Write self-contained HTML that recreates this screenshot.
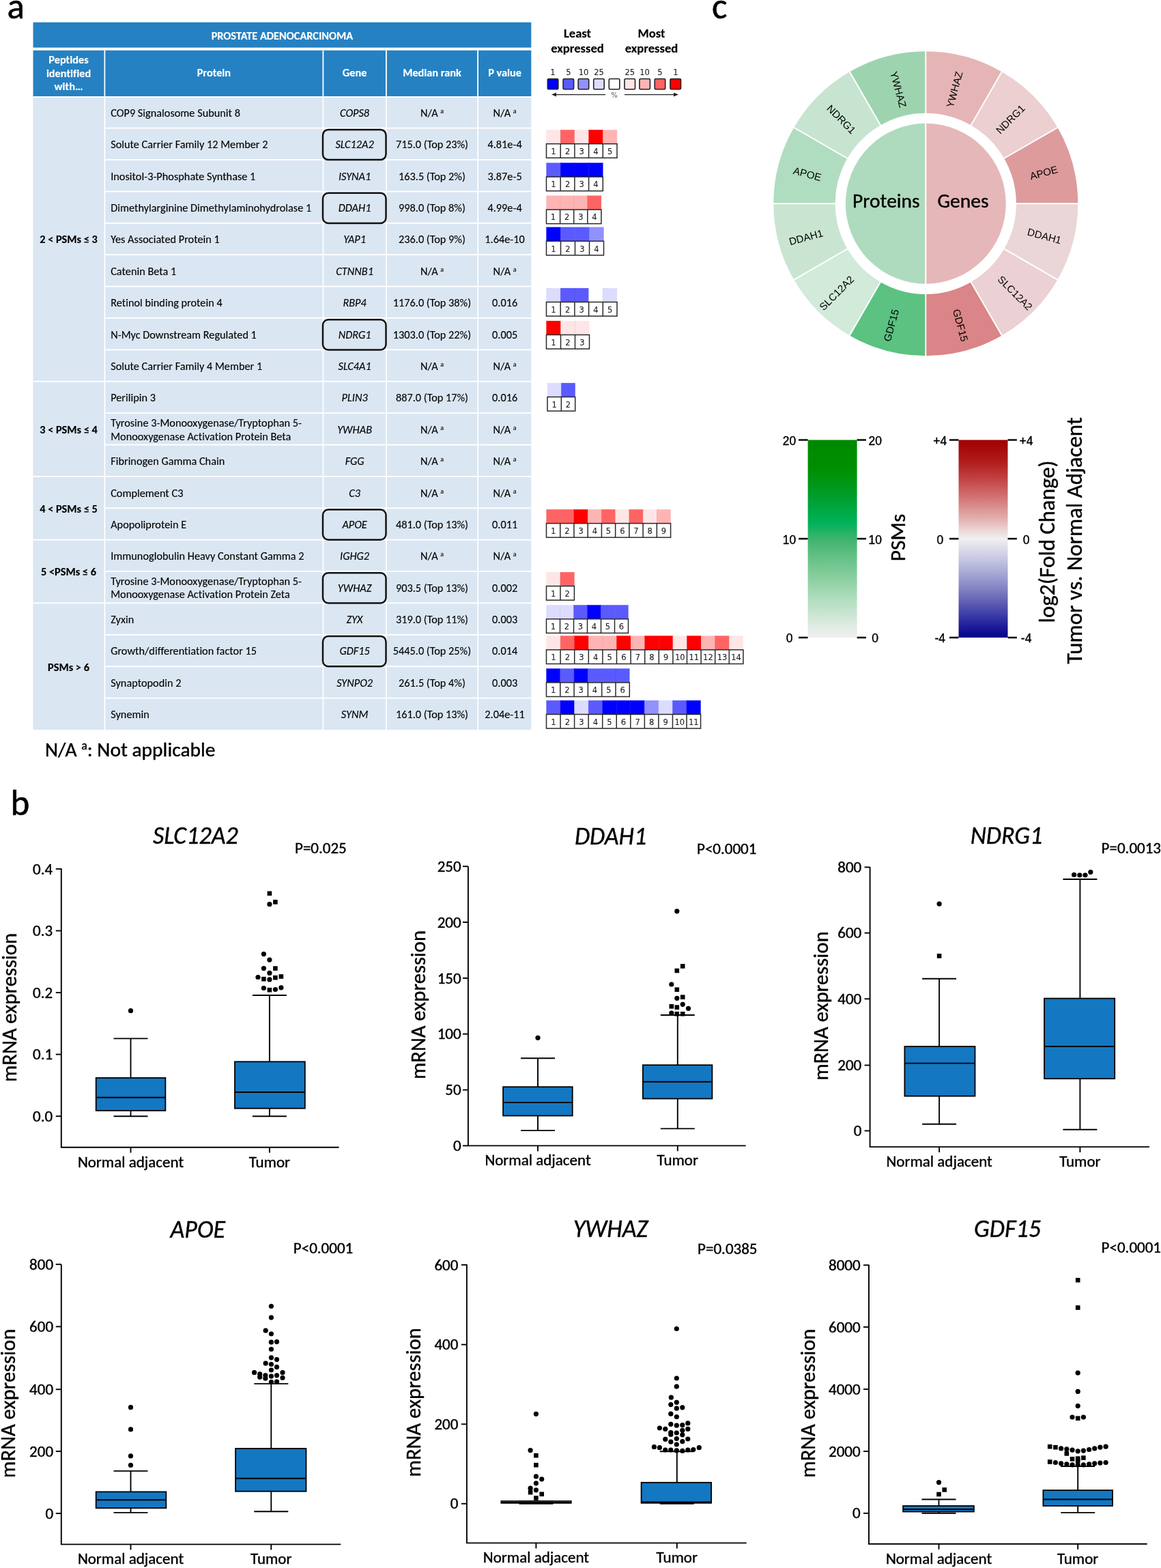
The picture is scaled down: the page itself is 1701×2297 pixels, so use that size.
<!DOCTYPE html>
<html><head><meta charset="utf-8"><title>Figure</title>
<style>html,body{margin:0;padding:0;background:#fff;} svg{display:block;} text{font-variant-ligatures:none;font-kerning:normal;}</style></head>
<body><svg width="1701" height="2297" viewBox="0 0 1701 2297">
<rect width="1701" height="2297" fill="#fff"></rect>
<rect x="48.5" y="32.7" width="729.8" height="37.0" fill="#2681C2"></rect>
<rect x="48.5" y="73.8" width="729.8" height="67.4" fill="#2681C2"></rect>
<rect x="48.5" y="141.2" width="729.8" height="927.8" fill="#DAE6F2"></rect>
<rect x="152.5" y="73.8" width="1.8" height="995.2" fill="#fff"></rect>
<rect x="472.5" y="73.8" width="1.8" height="995.2" fill="#fff"></rect>
<rect x="565.0" y="73.8" width="1.8" height="995.2" fill="#fff"></rect>
<rect x="699.2" y="73.8" width="1.8" height="995.2" fill="#fff"></rect>
<rect x="48.5" y="141.2" width="729.8" height="1.9" fill="#fff"></rect>
<rect x="152.5" y="186.7" width="625.8" height="1.9" fill="#fff"></rect>
<rect x="152.5" y="233.1" width="625.8" height="1.9" fill="#fff"></rect>
<rect x="152.5" y="279.5" width="625.8" height="1.9" fill="#fff"></rect>
<rect x="152.5" y="325.9" width="625.8" height="1.9" fill="#fff"></rect>
<rect x="152.5" y="372.2" width="625.8" height="1.9" fill="#fff"></rect>
<rect x="152.5" y="418.6" width="625.8" height="1.9" fill="#fff"></rect>
<rect x="152.5" y="465.0" width="625.8" height="1.9" fill="#fff"></rect>
<rect x="152.5" y="511.4" width="625.8" height="1.9" fill="#fff"></rect>
<rect x="48.5" y="557.8" width="729.8" height="1.9" fill="#fff"></rect>
<rect x="152.5" y="604.2" width="625.8" height="1.9" fill="#fff"></rect>
<rect x="152.5" y="650.6" width="625.8" height="1.9" fill="#fff"></rect>
<rect x="48.5" y="697.0" width="729.8" height="1.9" fill="#fff"></rect>
<rect x="152.5" y="743.4" width="625.8" height="1.9" fill="#fff"></rect>
<rect x="48.5" y="789.8" width="729.8" height="1.9" fill="#fff"></rect>
<rect x="152.5" y="836.1" width="625.8" height="1.9" fill="#fff"></rect>
<rect x="48.5" y="882.5" width="729.8" height="1.9" fill="#fff"></rect>
<rect x="152.5" y="928.9" width="625.8" height="1.9" fill="#fff"></rect>
<rect x="152.5" y="975.3" width="625.8" height="1.9" fill="#fff"></rect>
<rect x="152.5" y="1021.7" width="625.8" height="1.9" fill="#fff"></rect>
<text x="413.4" y="57.5" font-size="16.3" font-family="Carlito, 'Liberation Sans', sans-serif" font-weight="bold" text-anchor="middle" fill="#fff" stroke="#fff" stroke-width="0.15" textLength="207.41" lengthAdjust="spacingAndGlyphs">PROSTATE ADENOCARCINOMA</text>
<text x="100.5" y="93.0" font-size="16.3" font-family="Carlito, 'Liberation Sans', sans-serif" font-weight="bold" text-anchor="middle" fill="#fff" stroke="#fff" stroke-width="0.15" textLength="58.34" lengthAdjust="spacingAndGlyphs">Peptides</text>
<text x="100.5" y="112.5" font-size="16.3" font-family="Carlito, 'Liberation Sans', sans-serif" font-weight="bold" text-anchor="middle" fill="#fff" stroke="#fff" stroke-width="0.15" textLength="65.25" lengthAdjust="spacingAndGlyphs">identified</text>
<text x="100.5" y="132.0" font-size="16.3" font-family="Carlito, 'Liberation Sans', sans-serif" font-weight="bold" text-anchor="middle" fill="#fff" stroke="#fff" stroke-width="0.15" textLength="42.11" lengthAdjust="spacingAndGlyphs">with…</text>
<text x="313.4" y="112.3" font-size="16.3" font-family="Carlito, 'Liberation Sans', sans-serif" font-weight="bold" text-anchor="middle" fill="#fff" stroke="#fff" stroke-width="0.15" textLength="49.39" lengthAdjust="spacingAndGlyphs">Protein</text>
<text x="519.6" y="112.3" font-size="16.3" font-family="Carlito, 'Liberation Sans', sans-serif" font-weight="bold" text-anchor="middle" fill="#fff" stroke="#fff" stroke-width="0.15" textLength="35.52" lengthAdjust="spacingAndGlyphs">Gene</text>
<text x="633.0" y="112.3" font-size="16.3" font-family="Carlito, 'Liberation Sans', sans-serif" font-weight="bold" text-anchor="middle" fill="#fff" stroke="#fff" stroke-width="0.15" textLength="85.64" lengthAdjust="spacingAndGlyphs">Median rank</text>
<text x="739.6" y="112.3" font-size="16.3" font-family="Carlito, 'Liberation Sans', sans-serif" font-weight="bold" text-anchor="middle" fill="#fff" stroke="#fff" stroke-width="0.15" textLength="48.78" lengthAdjust="spacingAndGlyphs">P value</text>
<text x="162.2" y="170.8" font-size="16.3" font-family="Carlito, 'Liberation Sans', sans-serif" fill="#000" stroke="#000" stroke-width="0.12" textLength="189.78" lengthAdjust="spacingAndGlyphs">COP9 Signalosome Subunit 8</text>
<text x="519.6" y="170.8" font-size="16.3" font-family="Carlito, 'Liberation Sans', sans-serif" font-style="italic" text-anchor="middle" fill="#000" stroke="#000" stroke-width="0.12" textLength="43.03" lengthAdjust="spacingAndGlyphs">COPS8</text>
<text x="633.0" y="170.8" font-size="16.3" font-family="Carlito, 'Liberation Sans', sans-serif" text-anchor="middle" fill="#000" stroke="#000" stroke-width="0.12">N/A <tspan font-size="10" dy="-5">a</tspan></text>
<text x="739.6" y="170.8" font-size="16.3" font-family="Carlito, 'Liberation Sans', sans-serif" text-anchor="middle" fill="#000" stroke="#000" stroke-width="0.12">N/A <tspan font-size="10" dy="-5">a</tspan></text>
<text x="162.2" y="217.2" font-size="16.3" font-family="Carlito, 'Liberation Sans', sans-serif" fill="#000" stroke="#000" stroke-width="0.12" textLength="230.30" lengthAdjust="spacingAndGlyphs">Solute Carrier Family 12 Member 2</text>
<text x="519.6" y="217.2" font-size="16.3" font-family="Carlito, 'Liberation Sans', sans-serif" font-style="italic" text-anchor="middle" fill="#000" stroke="#000" stroke-width="0.12" textLength="56.38" lengthAdjust="spacingAndGlyphs">SLC12A2</text>
<text x="633.0" y="217.2" font-size="16.3" font-family="Carlito, 'Liberation Sans', sans-serif" text-anchor="middle" fill="#000" stroke="#000" stroke-width="0.12" textLength="106.13" lengthAdjust="spacingAndGlyphs">715.0 (Top 23%)</text>
<text x="739.6" y="217.2" font-size="16.3" font-family="Carlito, 'Liberation Sans', sans-serif" text-anchor="middle" fill="#000" stroke="#000" stroke-width="0.12" textLength="50.22" lengthAdjust="spacingAndGlyphs">4.81e-4</text>
<rect x="473.0" y="189.9" width="92.5" height="44.2" rx="8" ry="8" fill="none" stroke="#111" stroke-width="2.5"></rect>
<text x="162.2" y="263.6" font-size="16.3" font-family="Carlito, 'Liberation Sans', sans-serif" fill="#000" stroke="#000" stroke-width="0.12" textLength="212.19" lengthAdjust="spacingAndGlyphs">Inositol-3-Phosphate Synthase 1</text>
<text x="519.6" y="263.6" font-size="16.3" font-family="Carlito, 'Liberation Sans', sans-serif" font-style="italic" text-anchor="middle" fill="#000" stroke="#000" stroke-width="0.12" textLength="47.36" lengthAdjust="spacingAndGlyphs">ISYNA1</text>
<text x="633.0" y="263.6" font-size="16.3" font-family="Carlito, 'Liberation Sans', sans-serif" text-anchor="middle" fill="#000" stroke="#000" stroke-width="0.12" textLength="97.88" lengthAdjust="spacingAndGlyphs">163.5 (Top 2%)</text>
<text x="739.6" y="263.6" font-size="16.3" font-family="Carlito, 'Liberation Sans', sans-serif" text-anchor="middle" fill="#000" stroke="#000" stroke-width="0.12" textLength="50.22" lengthAdjust="spacingAndGlyphs">3.87e-5</text>
<text x="162.2" y="310.0" font-size="16.3" font-family="Carlito, 'Liberation Sans', sans-serif" fill="#000" stroke="#000" stroke-width="0.12" textLength="294.06" lengthAdjust="spacingAndGlyphs">Dimethylarginine Dimethylaminohydrolase 1</text>
<text x="519.6" y="310.0" font-size="16.3" font-family="Carlito, 'Liberation Sans', sans-serif" font-style="italic" text-anchor="middle" fill="#000" stroke="#000" stroke-width="0.12" textLength="47.61" lengthAdjust="spacingAndGlyphs">DDAH1</text>
<text x="633.0" y="310.0" font-size="16.3" font-family="Carlito, 'Liberation Sans', sans-serif" text-anchor="middle" fill="#000" stroke="#000" stroke-width="0.12" textLength="97.88" lengthAdjust="spacingAndGlyphs">998.0 (Top 8%)</text>
<text x="739.6" y="310.0" font-size="16.3" font-family="Carlito, 'Liberation Sans', sans-serif" text-anchor="middle" fill="#000" stroke="#000" stroke-width="0.12" textLength="50.22" lengthAdjust="spacingAndGlyphs">4.99e-4</text>
<rect x="473.0" y="282.7" width="92.5" height="44.2" rx="8" ry="8" fill="none" stroke="#111" stroke-width="2.5"></rect>
<text x="162.2" y="356.4" font-size="16.3" font-family="Carlito, 'Liberation Sans', sans-serif" fill="#000" stroke="#000" stroke-width="0.12" textLength="159.56" lengthAdjust="spacingAndGlyphs">Yes Associated Protein 1</text>
<text x="519.6" y="356.4" font-size="16.3" font-family="Carlito, 'Liberation Sans', sans-serif" font-style="italic" text-anchor="middle" fill="#000" stroke="#000" stroke-width="0.12" textLength="32.84" lengthAdjust="spacingAndGlyphs">YAP1</text>
<text x="633.0" y="356.4" font-size="16.3" font-family="Carlito, 'Liberation Sans', sans-serif" text-anchor="middle" fill="#000" stroke="#000" stroke-width="0.12" textLength="97.88" lengthAdjust="spacingAndGlyphs">236.0 (Top 9%)</text>
<text x="739.6" y="356.4" font-size="16.3" font-family="Carlito, 'Liberation Sans', sans-serif" text-anchor="middle" fill="#000" stroke="#000" stroke-width="0.12" textLength="58.47" lengthAdjust="spacingAndGlyphs">1.64e-10</text>
<text x="162.2" y="402.8" font-size="16.3" font-family="Carlito, 'Liberation Sans', sans-serif" fill="#000" stroke="#000" stroke-width="0.12" textLength="96.09" lengthAdjust="spacingAndGlyphs">Catenin Beta 1</text>
<text x="519.6" y="402.8" font-size="16.3" font-family="Carlito, 'Liberation Sans', sans-serif" font-style="italic" text-anchor="middle" fill="#000" stroke="#000" stroke-width="0.12" textLength="54.63" lengthAdjust="spacingAndGlyphs">CTNNB1</text>
<text x="633.0" y="402.8" font-size="16.3" font-family="Carlito, 'Liberation Sans', sans-serif" text-anchor="middle" fill="#000" stroke="#000" stroke-width="0.12">N/A <tspan font-size="10" dy="-5">a</tspan></text>
<text x="739.6" y="402.8" font-size="16.3" font-family="Carlito, 'Liberation Sans', sans-serif" text-anchor="middle" fill="#000" stroke="#000" stroke-width="0.12">N/A <tspan font-size="10" dy="-5">a</tspan></text>
<text x="162.2" y="449.1" font-size="16.3" font-family="Carlito, 'Liberation Sans', sans-serif" fill="#000" stroke="#000" stroke-width="0.12" textLength="163.52" lengthAdjust="spacingAndGlyphs">Retinol binding protein 4</text>
<text x="519.6" y="449.1" font-size="16.3" font-family="Carlito, 'Liberation Sans', sans-serif" font-style="italic" text-anchor="middle" fill="#000" stroke="#000" stroke-width="0.12" textLength="34.36" lengthAdjust="spacingAndGlyphs">RBP4</text>
<text x="633.0" y="449.1" font-size="16.3" font-family="Carlito, 'Liberation Sans', sans-serif" text-anchor="middle" fill="#000" stroke="#000" stroke-width="0.12" textLength="114.38" lengthAdjust="spacingAndGlyphs">1176.0 (Top 38%)</text>
<text x="739.6" y="449.1" font-size="16.3" font-family="Carlito, 'Liberation Sans', sans-serif" text-anchor="middle" fill="#000" stroke="#000" stroke-width="0.12" textLength="37.13" lengthAdjust="spacingAndGlyphs">0.016</text>
<text x="162.2" y="495.5" font-size="16.3" font-family="Carlito, 'Liberation Sans', sans-serif" fill="#000" stroke="#000" stroke-width="0.12" textLength="213.69" lengthAdjust="spacingAndGlyphs">N-Myc Downstream Regulated 1</text>
<text x="519.6" y="495.5" font-size="16.3" font-family="Carlito, 'Liberation Sans', sans-serif" font-style="italic" text-anchor="middle" fill="#000" stroke="#000" stroke-width="0.12" textLength="47.73" lengthAdjust="spacingAndGlyphs">NDRG1</text>
<text x="633.0" y="495.5" font-size="16.3" font-family="Carlito, 'Liberation Sans', sans-serif" text-anchor="middle" fill="#000" stroke="#000" stroke-width="0.12" textLength="114.38" lengthAdjust="spacingAndGlyphs">1303.0 (Top 22%)</text>
<text x="739.6" y="495.5" font-size="16.3" font-family="Carlito, 'Liberation Sans', sans-serif" text-anchor="middle" fill="#000" stroke="#000" stroke-width="0.12" textLength="37.13" lengthAdjust="spacingAndGlyphs">0.005</text>
<rect x="473.0" y="468.2" width="92.5" height="44.2" rx="8" ry="8" fill="none" stroke="#111" stroke-width="2.5"></rect>
<text x="162.2" y="541.9" font-size="16.3" font-family="Carlito, 'Liberation Sans', sans-serif" fill="#000" stroke="#000" stroke-width="0.12" textLength="222.05" lengthAdjust="spacingAndGlyphs">Solute Carrier Family 4 Member 1</text>
<text x="519.6" y="541.9" font-size="16.3" font-family="Carlito, 'Liberation Sans', sans-serif" font-style="italic" text-anchor="middle" fill="#000" stroke="#000" stroke-width="0.12" textLength="48.13" lengthAdjust="spacingAndGlyphs">SLC4A1</text>
<text x="633.0" y="541.9" font-size="16.3" font-family="Carlito, 'Liberation Sans', sans-serif" text-anchor="middle" fill="#000" stroke="#000" stroke-width="0.12">N/A <tspan font-size="10" dy="-5">a</tspan></text>
<text x="739.6" y="541.9" font-size="16.3" font-family="Carlito, 'Liberation Sans', sans-serif" text-anchor="middle" fill="#000" stroke="#000" stroke-width="0.12">N/A <tspan font-size="10" dy="-5">a</tspan></text>
<text x="162.2" y="588.3" font-size="16.3" font-family="Carlito, 'Liberation Sans', sans-serif" fill="#000" stroke="#000" stroke-width="0.12" textLength="65.86" lengthAdjust="spacingAndGlyphs">Perilipin 3</text>
<text x="519.6" y="588.3" font-size="16.3" font-family="Carlito, 'Liberation Sans', sans-serif" font-style="italic" text-anchor="middle" fill="#000" stroke="#000" stroke-width="0.12" textLength="38.11" lengthAdjust="spacingAndGlyphs">PLIN3</text>
<text x="633.0" y="588.3" font-size="16.3" font-family="Carlito, 'Liberation Sans', sans-serif" text-anchor="middle" fill="#000" stroke="#000" stroke-width="0.12" textLength="106.13" lengthAdjust="spacingAndGlyphs">887.0 (Top 17%)</text>
<text x="739.6" y="588.3" font-size="16.3" font-family="Carlito, 'Liberation Sans', sans-serif" text-anchor="middle" fill="#000" stroke="#000" stroke-width="0.12" textLength="37.13" lengthAdjust="spacingAndGlyphs">0.016</text>
<text x="162.2" y="625.2" font-size="16.3" font-family="Carlito, 'Liberation Sans', sans-serif" fill="#000" stroke="#000" stroke-width="0.12" textLength="279.91" lengthAdjust="spacingAndGlyphs">Tyrosine 3-Monooxygenase/Tryptophan 5-</text>
<text x="162.2" y="644.5" font-size="16.3" font-family="Carlito, 'Liberation Sans', sans-serif" fill="#000" stroke="#000" stroke-width="0.12" textLength="264.22" lengthAdjust="spacingAndGlyphs">Monooxygenase Activation Protein Beta</text>
<text x="519.6" y="634.7" font-size="16.3" font-family="Carlito, 'Liberation Sans', sans-serif" font-style="italic" text-anchor="middle" fill="#000" stroke="#000" stroke-width="0.12" textLength="50.86" lengthAdjust="spacingAndGlyphs">YWHAB</text>
<text x="633.0" y="634.7" font-size="16.3" font-family="Carlito, 'Liberation Sans', sans-serif" text-anchor="middle" fill="#000" stroke="#000" stroke-width="0.12">N/A <tspan font-size="10" dy="-5">a</tspan></text>
<text x="739.6" y="634.7" font-size="16.3" font-family="Carlito, 'Liberation Sans', sans-serif" text-anchor="middle" fill="#000" stroke="#000" stroke-width="0.12">N/A <tspan font-size="10" dy="-5">a</tspan></text>
<text x="162.2" y="681.1" font-size="16.3" font-family="Carlito, 'Liberation Sans', sans-serif" fill="#000" stroke="#000" stroke-width="0.12" textLength="167.08" lengthAdjust="spacingAndGlyphs">Fibrinogen Gamma Chain</text>
<text x="519.6" y="681.1" font-size="16.3" font-family="Carlito, 'Liberation Sans', sans-serif" font-style="italic" text-anchor="middle" fill="#000" stroke="#000" stroke-width="0.12" textLength="27.89" lengthAdjust="spacingAndGlyphs">FGG</text>
<text x="633.0" y="681.1" font-size="16.3" font-family="Carlito, 'Liberation Sans', sans-serif" text-anchor="middle" fill="#000" stroke="#000" stroke-width="0.12">N/A <tspan font-size="10" dy="-5">a</tspan></text>
<text x="739.6" y="681.1" font-size="16.3" font-family="Carlito, 'Liberation Sans', sans-serif" text-anchor="middle" fill="#000" stroke="#000" stroke-width="0.12">N/A <tspan font-size="10" dy="-5">a</tspan></text>
<text x="162.2" y="727.5" font-size="16.3" font-family="Carlito, 'Liberation Sans', sans-serif" fill="#000" stroke="#000" stroke-width="0.12" textLength="106.25" lengthAdjust="spacingAndGlyphs">Complement C3</text>
<text x="519.6" y="727.5" font-size="16.3" font-family="Carlito, 'Liberation Sans', sans-serif" font-style="italic" text-anchor="middle" fill="#000" stroke="#000" stroke-width="0.12" textLength="16.77" lengthAdjust="spacingAndGlyphs">C3</text>
<text x="633.0" y="727.5" font-size="16.3" font-family="Carlito, 'Liberation Sans', sans-serif" text-anchor="middle" fill="#000" stroke="#000" stroke-width="0.12">N/A <tspan font-size="10" dy="-5">a</tspan></text>
<text x="739.6" y="727.5" font-size="16.3" font-family="Carlito, 'Liberation Sans', sans-serif" text-anchor="middle" fill="#000" stroke="#000" stroke-width="0.12">N/A <tspan font-size="10" dy="-5">a</tspan></text>
<text x="162.2" y="773.9" font-size="16.3" font-family="Carlito, 'Liberation Sans', sans-serif" fill="#000" stroke="#000" stroke-width="0.12" textLength="111.03" lengthAdjust="spacingAndGlyphs">Apopoliprotein E</text>
<text x="519.6" y="773.9" font-size="16.3" font-family="Carlito, 'Liberation Sans', sans-serif" font-style="italic" text-anchor="middle" fill="#000" stroke="#000" stroke-width="0.12" textLength="36.44" lengthAdjust="spacingAndGlyphs">APOE</text>
<text x="633.0" y="773.9" font-size="16.3" font-family="Carlito, 'Liberation Sans', sans-serif" text-anchor="middle" fill="#000" stroke="#000" stroke-width="0.12" textLength="106.13" lengthAdjust="spacingAndGlyphs">481.0 (Top 13%)</text>
<text x="739.6" y="773.9" font-size="16.3" font-family="Carlito, 'Liberation Sans', sans-serif" text-anchor="middle" fill="#000" stroke="#000" stroke-width="0.12" textLength="37.13" lengthAdjust="spacingAndGlyphs">0.011</text>
<rect x="473.0" y="746.6" width="92.5" height="44.2" rx="8" ry="8" fill="none" stroke="#111" stroke-width="2.5"></rect>
<text x="162.2" y="820.3" font-size="16.3" font-family="Carlito, 'Liberation Sans', sans-serif" fill="#000" stroke="#000" stroke-width="0.12" textLength="283.30" lengthAdjust="spacingAndGlyphs">Immunoglobulin Heavy Constant Gamma 2</text>
<text x="519.6" y="820.3" font-size="16.3" font-family="Carlito, 'Liberation Sans', sans-serif" font-style="italic" text-anchor="middle" fill="#000" stroke="#000" stroke-width="0.12" textLength="43.05" lengthAdjust="spacingAndGlyphs">IGHG2</text>
<text x="633.0" y="820.3" font-size="16.3" font-family="Carlito, 'Liberation Sans', sans-serif" text-anchor="middle" fill="#000" stroke="#000" stroke-width="0.12">N/A <tspan font-size="10" dy="-5">a</tspan></text>
<text x="739.6" y="820.3" font-size="16.3" font-family="Carlito, 'Liberation Sans', sans-serif" text-anchor="middle" fill="#000" stroke="#000" stroke-width="0.12">N/A <tspan font-size="10" dy="-5">a</tspan></text>
<text x="162.2" y="857.1" font-size="16.3" font-family="Carlito, 'Liberation Sans', sans-serif" fill="#000" stroke="#000" stroke-width="0.12" textLength="279.91" lengthAdjust="spacingAndGlyphs">Tyrosine 3-Monooxygenase/Tryptophan 5-</text>
<text x="162.2" y="876.4" font-size="16.3" font-family="Carlito, 'Liberation Sans', sans-serif" fill="#000" stroke="#000" stroke-width="0.12" textLength="262.73" lengthAdjust="spacingAndGlyphs">Monooxygenase Activation Protein Zeta</text>
<text x="519.6" y="866.6" font-size="16.3" font-family="Carlito, 'Liberation Sans', sans-serif" font-style="italic" text-anchor="middle" fill="#000" stroke="#000" stroke-width="0.12" textLength="49.63" lengthAdjust="spacingAndGlyphs">YWHAZ</text>
<text x="633.0" y="866.6" font-size="16.3" font-family="Carlito, 'Liberation Sans', sans-serif" text-anchor="middle" fill="#000" stroke="#000" stroke-width="0.12" textLength="106.13" lengthAdjust="spacingAndGlyphs">903.5 (Top 13%)</text>
<text x="739.6" y="866.6" font-size="16.3" font-family="Carlito, 'Liberation Sans', sans-serif" text-anchor="middle" fill="#000" stroke="#000" stroke-width="0.12" textLength="37.13" lengthAdjust="spacingAndGlyphs">0.002</text>
<rect x="473.0" y="839.3" width="92.5" height="44.2" rx="8" ry="8" fill="none" stroke="#111" stroke-width="2.5"></rect>
<text x="162.2" y="913.0" font-size="16.3" font-family="Carlito, 'Liberation Sans', sans-serif" fill="#000" stroke="#000" stroke-width="0.12" textLength="34.05" lengthAdjust="spacingAndGlyphs">Zyxin</text>
<text x="519.6" y="913.0" font-size="16.3" font-family="Carlito, 'Liberation Sans', sans-serif" font-style="italic" text-anchor="middle" fill="#000" stroke="#000" stroke-width="0.12" textLength="23.97" lengthAdjust="spacingAndGlyphs">ZYX</text>
<text x="633.0" y="913.0" font-size="16.3" font-family="Carlito, 'Liberation Sans', sans-serif" text-anchor="middle" fill="#000" stroke="#000" stroke-width="0.12" textLength="106.13" lengthAdjust="spacingAndGlyphs">319.0 (Top 11%)</text>
<text x="739.6" y="913.0" font-size="16.3" font-family="Carlito, 'Liberation Sans', sans-serif" text-anchor="middle" fill="#000" stroke="#000" stroke-width="0.12" textLength="37.13" lengthAdjust="spacingAndGlyphs">0.003</text>
<text x="162.2" y="959.4" font-size="16.3" font-family="Carlito, 'Liberation Sans', sans-serif" fill="#000" stroke="#000" stroke-width="0.12" textLength="213.83" lengthAdjust="spacingAndGlyphs">Growth/differentiation factor 15</text>
<text x="519.6" y="959.4" font-size="16.3" font-family="Carlito, 'Liberation Sans', sans-serif" font-style="italic" text-anchor="middle" fill="#000" stroke="#000" stroke-width="0.12" textLength="44.28" lengthAdjust="spacingAndGlyphs">GDF15</text>
<text x="633.0" y="959.4" font-size="16.3" font-family="Carlito, 'Liberation Sans', sans-serif" text-anchor="middle" fill="#000" stroke="#000" stroke-width="0.12" textLength="114.38" lengthAdjust="spacingAndGlyphs">5445.0 (Top 25%)</text>
<text x="739.6" y="959.4" font-size="16.3" font-family="Carlito, 'Liberation Sans', sans-serif" text-anchor="middle" fill="#000" stroke="#000" stroke-width="0.12" textLength="37.13" lengthAdjust="spacingAndGlyphs">0.014</text>
<rect x="473.0" y="932.1" width="92.5" height="44.2" rx="8" ry="8" fill="none" stroke="#111" stroke-width="2.5"></rect>
<text x="162.2" y="1005.8" font-size="16.3" font-family="Carlito, 'Liberation Sans', sans-serif" fill="#000" stroke="#000" stroke-width="0.12" textLength="103.30" lengthAdjust="spacingAndGlyphs">Synaptopodin 2</text>
<text x="519.6" y="1005.8" font-size="16.3" font-family="Carlito, 'Liberation Sans', sans-serif" font-style="italic" text-anchor="middle" fill="#000" stroke="#000" stroke-width="0.12" textLength="52.89" lengthAdjust="spacingAndGlyphs">SYNPO2</text>
<text x="633.0" y="1005.8" font-size="16.3" font-family="Carlito, 'Liberation Sans', sans-serif" text-anchor="middle" fill="#000" stroke="#000" stroke-width="0.12" textLength="97.88" lengthAdjust="spacingAndGlyphs">261.5 (Top 4%)</text>
<text x="739.6" y="1005.8" font-size="16.3" font-family="Carlito, 'Liberation Sans', sans-serif" text-anchor="middle" fill="#000" stroke="#000" stroke-width="0.12" textLength="37.13" lengthAdjust="spacingAndGlyphs">0.003</text>
<text x="162.2" y="1052.2" font-size="16.3" font-family="Carlito, 'Liberation Sans', sans-serif" fill="#000" stroke="#000" stroke-width="0.12" textLength="56.61" lengthAdjust="spacingAndGlyphs">Synemin</text>
<text x="519.6" y="1052.2" font-size="16.3" font-family="Carlito, 'Liberation Sans', sans-serif" font-style="italic" text-anchor="middle" fill="#000" stroke="#000" stroke-width="0.12" textLength="39.50" lengthAdjust="spacingAndGlyphs">SYNM</text>
<text x="633.0" y="1052.2" font-size="16.3" font-family="Carlito, 'Liberation Sans', sans-serif" text-anchor="middle" fill="#000" stroke="#000" stroke-width="0.12" textLength="106.13" lengthAdjust="spacingAndGlyphs">161.0 (Top 13%)</text>
<text x="739.6" y="1052.2" font-size="16.3" font-family="Carlito, 'Liberation Sans', sans-serif" text-anchor="middle" fill="#000" stroke="#000" stroke-width="0.12" textLength="58.47" lengthAdjust="spacingAndGlyphs">2.04e-11</text>
<text x="100.5" y="356.3" font-size="16.3" font-family="Carlito, 'Liberation Sans', sans-serif" font-weight="bold" text-anchor="middle" fill="#000" stroke="#000" stroke-width="0.15" textLength="84.53" lengthAdjust="spacingAndGlyphs">2 &lt; PSMs ≤ 3</text>
<text x="100.5" y="634.6" font-size="16.3" font-family="Carlito, 'Liberation Sans', sans-serif" font-weight="bold" text-anchor="middle" fill="#000" stroke="#000" stroke-width="0.15" textLength="84.53" lengthAdjust="spacingAndGlyphs">3 &lt; PSMs ≤ 4</text>
<text x="100.5" y="750.6" font-size="16.3" font-family="Carlito, 'Liberation Sans', sans-serif" font-weight="bold" text-anchor="middle" fill="#000" stroke="#000" stroke-width="0.15" textLength="84.53" lengthAdjust="spacingAndGlyphs">4 &lt; PSMs ≤ 5</text>
<text x="100.5" y="843.3" font-size="16.3" font-family="Carlito, 'Liberation Sans', sans-serif" font-weight="bold" text-anchor="middle" fill="#000" stroke="#000" stroke-width="0.15" textLength="80.86" lengthAdjust="spacingAndGlyphs">5 &lt;PSMs ≤ 6</text>
<text x="100.5" y="982.5" font-size="16.3" font-family="Carlito, 'Liberation Sans', sans-serif" font-weight="bold" text-anchor="middle" fill="#000" stroke="#000" stroke-width="0.15" textLength="60.81" lengthAdjust="spacingAndGlyphs">PSMs &gt; 6</text>
<text x="66.0" y="1108.3" font-size="29.5" font-family="Carlito, 'Liberation Sans', sans-serif" fill="#000" stroke="#000" stroke-width="0.4">N/A <tspan font-size="18" dy="-10">a</tspan><tspan dy="10">: Not applicable</tspan></text>
<rect x="800.50" y="190.30" width="20.70" height="20.4" fill="#FFE6E6" stroke="#FFE6E6" stroke-width="0.3"></rect>
<rect x="821.20" y="190.30" width="20.70" height="20.4" fill="#FF6464" stroke="#FF6464" stroke-width="0.3"></rect>
<rect x="841.90" y="190.30" width="20.70" height="20.4" fill="#FFE6E6" stroke="#FFE6E6" stroke-width="0.3"></rect>
<rect x="862.60" y="190.30" width="20.70" height="20.4" fill="#FF0000" stroke="#FF0000" stroke-width="0.3"></rect>
<rect x="883.30" y="190.30" width="20.70" height="20.4" fill="#FFB4B4" stroke="#FFB4B4" stroke-width="0.3"></rect>
<line x1="821.20" y1="190.30" x2="821.20" y2="210.70" stroke="#000" stroke-opacity="0.10" stroke-width="0.8"></line>
<line x1="841.90" y1="190.30" x2="841.90" y2="210.70" stroke="#000" stroke-opacity="0.10" stroke-width="0.8"></line>
<line x1="862.60" y1="190.30" x2="862.60" y2="210.70" stroke="#000" stroke-opacity="0.10" stroke-width="0.8"></line>
<line x1="883.30" y1="190.30" x2="883.30" y2="210.70" stroke="#000" stroke-opacity="0.10" stroke-width="0.8"></line>
<rect x="800.50" y="210.70" width="103.50" height="20.6" fill="#fff" stroke="#2a2a2a" stroke-width="1.5"></rect>
<line x1="821.20" y1="210.70" x2="821.20" y2="231.30" stroke="#2a2a2a" stroke-width="1.5"></line>
<line x1="841.90" y1="210.70" x2="841.90" y2="231.30" stroke="#2a2a2a" stroke-width="1.5"></line>
<line x1="862.60" y1="210.70" x2="862.60" y2="231.30" stroke="#2a2a2a" stroke-width="1.5"></line>
<line x1="883.30" y1="210.70" x2="883.30" y2="231.30" stroke="#2a2a2a" stroke-width="1.5"></line>
<text x="810.9" y="225.9" font-size="11.5" font-family="'DejaVu Sans', 'Liberation Sans', sans-serif" text-anchor="middle" fill="#222" stroke="#222" stroke-width="0.1">1</text>
<text x="831.6" y="225.9" font-size="11.5" font-family="'DejaVu Sans', 'Liberation Sans', sans-serif" text-anchor="middle" fill="#222" stroke="#222" stroke-width="0.1">2</text>
<text x="852.2" y="225.9" font-size="11.5" font-family="'DejaVu Sans', 'Liberation Sans', sans-serif" text-anchor="middle" fill="#222" stroke="#222" stroke-width="0.1">3</text>
<text x="873.0" y="225.9" font-size="11.5" font-family="'DejaVu Sans', 'Liberation Sans', sans-serif" text-anchor="middle" fill="#222" stroke="#222" stroke-width="0.1">4</text>
<text x="893.6" y="225.9" font-size="11.5" font-family="'DejaVu Sans', 'Liberation Sans', sans-serif" text-anchor="middle" fill="#222" stroke="#222" stroke-width="0.1">5</text>
<rect x="800.50" y="238.70" width="20.70" height="20.4" fill="#5A5AFF" stroke="#5A5AFF" stroke-width="0.3"></rect>
<rect x="821.20" y="238.70" width="20.70" height="20.4" fill="#0000FF" stroke="#0000FF" stroke-width="0.3"></rect>
<rect x="841.90" y="238.70" width="20.70" height="20.4" fill="#0000FF" stroke="#0000FF" stroke-width="0.3"></rect>
<rect x="862.60" y="238.70" width="20.70" height="20.4" fill="#0000FF" stroke="#0000FF" stroke-width="0.3"></rect>
<line x1="821.20" y1="238.70" x2="821.20" y2="259.10" stroke="#000" stroke-opacity="0.10" stroke-width="0.8"></line>
<line x1="841.90" y1="238.70" x2="841.90" y2="259.10" stroke="#000" stroke-opacity="0.10" stroke-width="0.8"></line>
<line x1="862.60" y1="238.70" x2="862.60" y2="259.10" stroke="#000" stroke-opacity="0.10" stroke-width="0.8"></line>
<rect x="800.50" y="259.10" width="82.80" height="20.6" fill="#fff" stroke="#2a2a2a" stroke-width="1.5"></rect>
<line x1="821.20" y1="259.10" x2="821.20" y2="279.70" stroke="#2a2a2a" stroke-width="1.5"></line>
<line x1="841.90" y1="259.10" x2="841.90" y2="279.70" stroke="#2a2a2a" stroke-width="1.5"></line>
<line x1="862.60" y1="259.10" x2="862.60" y2="279.70" stroke="#2a2a2a" stroke-width="1.5"></line>
<text x="810.9" y="274.3" font-size="11.5" font-family="'DejaVu Sans', 'Liberation Sans', sans-serif" text-anchor="middle" fill="#222" stroke="#222" stroke-width="0.1">1</text>
<text x="831.6" y="274.3" font-size="11.5" font-family="'DejaVu Sans', 'Liberation Sans', sans-serif" text-anchor="middle" fill="#222" stroke="#222" stroke-width="0.1">2</text>
<text x="852.2" y="274.3" font-size="11.5" font-family="'DejaVu Sans', 'Liberation Sans', sans-serif" text-anchor="middle" fill="#222" stroke="#222" stroke-width="0.1">3</text>
<text x="873.0" y="274.3" font-size="11.5" font-family="'DejaVu Sans', 'Liberation Sans', sans-serif" text-anchor="middle" fill="#222" stroke="#222" stroke-width="0.1">4</text>
<rect x="800.50" y="286.70" width="20.10" height="20.4" fill="#FFB4B4" stroke="#FFB4B4" stroke-width="0.3"></rect>
<rect x="820.60" y="286.70" width="20.10" height="20.4" fill="#FFB4B4" stroke="#FFB4B4" stroke-width="0.3"></rect>
<rect x="840.70" y="286.70" width="20.10" height="20.4" fill="#FFB4B4" stroke="#FFB4B4" stroke-width="0.3"></rect>
<rect x="860.80" y="286.70" width="20.10" height="20.4" fill="#FF6464" stroke="#FF6464" stroke-width="0.3"></rect>
<line x1="820.60" y1="286.70" x2="820.60" y2="307.10" stroke="#000" stroke-opacity="0.10" stroke-width="0.8"></line>
<line x1="840.70" y1="286.70" x2="840.70" y2="307.10" stroke="#000" stroke-opacity="0.10" stroke-width="0.8"></line>
<line x1="860.80" y1="286.70" x2="860.80" y2="307.10" stroke="#000" stroke-opacity="0.10" stroke-width="0.8"></line>
<rect x="800.50" y="307.10" width="80.40" height="20.6" fill="#fff" stroke="#2a2a2a" stroke-width="1.5"></rect>
<line x1="820.60" y1="307.10" x2="820.60" y2="327.70" stroke="#2a2a2a" stroke-width="1.5"></line>
<line x1="840.70" y1="307.10" x2="840.70" y2="327.70" stroke="#2a2a2a" stroke-width="1.5"></line>
<line x1="860.80" y1="307.10" x2="860.80" y2="327.70" stroke="#2a2a2a" stroke-width="1.5"></line>
<text x="810.5" y="322.3" font-size="11.5" font-family="'DejaVu Sans', 'Liberation Sans', sans-serif" text-anchor="middle" fill="#222" stroke="#222" stroke-width="0.1">1</text>
<text x="830.6" y="322.3" font-size="11.5" font-family="'DejaVu Sans', 'Liberation Sans', sans-serif" text-anchor="middle" fill="#222" stroke="#222" stroke-width="0.1">2</text>
<text x="850.8" y="322.3" font-size="11.5" font-family="'DejaVu Sans', 'Liberation Sans', sans-serif" text-anchor="middle" fill="#222" stroke="#222" stroke-width="0.1">3</text>
<text x="870.8" y="322.3" font-size="11.5" font-family="'DejaVu Sans', 'Liberation Sans', sans-serif" text-anchor="middle" fill="#222" stroke="#222" stroke-width="0.1">4</text>
<rect x="800.50" y="332.90" width="21.00" height="20.4" fill="#0000FF" stroke="#0000FF" stroke-width="0.3"></rect>
<rect x="821.50" y="332.90" width="21.00" height="20.4" fill="#5A5AFF" stroke="#5A5AFF" stroke-width="0.3"></rect>
<rect x="842.50" y="332.90" width="21.00" height="20.4" fill="#5A5AFF" stroke="#5A5AFF" stroke-width="0.3"></rect>
<rect x="863.50" y="332.90" width="21.00" height="20.4" fill="#9191FF" stroke="#9191FF" stroke-width="0.3"></rect>
<line x1="821.50" y1="332.90" x2="821.50" y2="353.30" stroke="#000" stroke-opacity="0.10" stroke-width="0.8"></line>
<line x1="842.50" y1="332.90" x2="842.50" y2="353.30" stroke="#000" stroke-opacity="0.10" stroke-width="0.8"></line>
<line x1="863.50" y1="332.90" x2="863.50" y2="353.30" stroke="#000" stroke-opacity="0.10" stroke-width="0.8"></line>
<rect x="800.50" y="353.30" width="84.00" height="20.6" fill="#fff" stroke="#2a2a2a" stroke-width="1.5"></rect>
<line x1="821.50" y1="353.30" x2="821.50" y2="373.90" stroke="#2a2a2a" stroke-width="1.5"></line>
<line x1="842.50" y1="353.30" x2="842.50" y2="373.90" stroke="#2a2a2a" stroke-width="1.5"></line>
<line x1="863.50" y1="353.30" x2="863.50" y2="373.90" stroke="#2a2a2a" stroke-width="1.5"></line>
<text x="811.0" y="368.5" font-size="11.5" font-family="'DejaVu Sans', 'Liberation Sans', sans-serif" text-anchor="middle" fill="#222" stroke="#222" stroke-width="0.1">1</text>
<text x="832.0" y="368.5" font-size="11.5" font-family="'DejaVu Sans', 'Liberation Sans', sans-serif" text-anchor="middle" fill="#222" stroke="#222" stroke-width="0.1">2</text>
<text x="853.0" y="368.5" font-size="11.5" font-family="'DejaVu Sans', 'Liberation Sans', sans-serif" text-anchor="middle" fill="#222" stroke="#222" stroke-width="0.1">3</text>
<text x="874.0" y="368.5" font-size="11.5" font-family="'DejaVu Sans', 'Liberation Sans', sans-serif" text-anchor="middle" fill="#222" stroke="#222" stroke-width="0.1">4</text>
<rect x="800.50" y="422.10" width="20.70" height="20.4" fill="#DCDCFF" stroke="#DCDCFF" stroke-width="0.3"></rect>
<rect x="821.20" y="422.10" width="20.70" height="20.4" fill="#5A5AFF" stroke="#5A5AFF" stroke-width="0.3"></rect>
<rect x="841.90" y="422.10" width="20.70" height="20.4" fill="#5A5AFF" stroke="#5A5AFF" stroke-width="0.3"></rect>
<rect x="862.60" y="422.10" width="20.70" height="20.4" fill="#FFFFFF" stroke="#FFFFFF" stroke-width="0.3"></rect>
<rect x="883.30" y="422.10" width="20.70" height="20.4" fill="#DCDCFF" stroke="#DCDCFF" stroke-width="0.3"></rect>
<line x1="821.20" y1="422.10" x2="821.20" y2="442.50" stroke="#000" stroke-opacity="0.10" stroke-width="0.8"></line>
<line x1="841.90" y1="422.10" x2="841.90" y2="442.50" stroke="#000" stroke-opacity="0.10" stroke-width="0.8"></line>
<line x1="862.60" y1="422.10" x2="862.60" y2="442.50" stroke="#000" stroke-opacity="0.10" stroke-width="0.8"></line>
<line x1="883.30" y1="422.10" x2="883.30" y2="442.50" stroke="#000" stroke-opacity="0.10" stroke-width="0.8"></line>
<rect x="800.50" y="442.50" width="103.50" height="20.6" fill="#fff" stroke="#2a2a2a" stroke-width="1.5"></rect>
<line x1="821.20" y1="442.50" x2="821.20" y2="463.10" stroke="#2a2a2a" stroke-width="1.5"></line>
<line x1="841.90" y1="442.50" x2="841.90" y2="463.10" stroke="#2a2a2a" stroke-width="1.5"></line>
<line x1="862.60" y1="442.50" x2="862.60" y2="463.10" stroke="#2a2a2a" stroke-width="1.5"></line>
<line x1="883.30" y1="442.50" x2="883.30" y2="463.10" stroke="#2a2a2a" stroke-width="1.5"></line>
<text x="810.9" y="457.7" font-size="11.5" font-family="'DejaVu Sans', 'Liberation Sans', sans-serif" text-anchor="middle" fill="#222" stroke="#222" stroke-width="0.1">1</text>
<text x="831.6" y="457.7" font-size="11.5" font-family="'DejaVu Sans', 'Liberation Sans', sans-serif" text-anchor="middle" fill="#222" stroke="#222" stroke-width="0.1">2</text>
<text x="852.2" y="457.7" font-size="11.5" font-family="'DejaVu Sans', 'Liberation Sans', sans-serif" text-anchor="middle" fill="#222" stroke="#222" stroke-width="0.1">3</text>
<text x="873.0" y="457.7" font-size="11.5" font-family="'DejaVu Sans', 'Liberation Sans', sans-serif" text-anchor="middle" fill="#222" stroke="#222" stroke-width="0.1">4</text>
<text x="893.6" y="457.7" font-size="11.5" font-family="'DejaVu Sans', 'Liberation Sans', sans-serif" text-anchor="middle" fill="#222" stroke="#222" stroke-width="0.1">5</text>
<rect x="800.50" y="470.10" width="21.00" height="20.4" fill="#FF0000" stroke="#FF0000" stroke-width="0.3"></rect>
<rect x="821.50" y="470.10" width="21.00" height="20.4" fill="#FFE6E6" stroke="#FFE6E6" stroke-width="0.3"></rect>
<rect x="842.50" y="470.10" width="21.00" height="20.4" fill="#FFE6E6" stroke="#FFE6E6" stroke-width="0.3"></rect>
<line x1="821.50" y1="470.10" x2="821.50" y2="490.50" stroke="#000" stroke-opacity="0.10" stroke-width="0.8"></line>
<line x1="842.50" y1="470.10" x2="842.50" y2="490.50" stroke="#000" stroke-opacity="0.10" stroke-width="0.8"></line>
<rect x="800.50" y="490.50" width="63.00" height="20.6" fill="#fff" stroke="#2a2a2a" stroke-width="1.5"></rect>
<line x1="821.50" y1="490.50" x2="821.50" y2="511.10" stroke="#2a2a2a" stroke-width="1.5"></line>
<line x1="842.50" y1="490.50" x2="842.50" y2="511.10" stroke="#2a2a2a" stroke-width="1.5"></line>
<text x="811.0" y="505.7" font-size="11.5" font-family="'DejaVu Sans', 'Liberation Sans', sans-serif" text-anchor="middle" fill="#222" stroke="#222" stroke-width="0.1">1</text>
<text x="832.0" y="505.7" font-size="11.5" font-family="'DejaVu Sans', 'Liberation Sans', sans-serif" text-anchor="middle" fill="#222" stroke="#222" stroke-width="0.1">2</text>
<text x="853.0" y="505.7" font-size="11.5" font-family="'DejaVu Sans', 'Liberation Sans', sans-serif" text-anchor="middle" fill="#222" stroke="#222" stroke-width="0.1">3</text>
<rect x="802.00" y="561.10" width="20.35" height="20.4" fill="#DCDCFF" stroke="#DCDCFF" stroke-width="0.3"></rect>
<rect x="822.35" y="561.10" width="20.35" height="20.4" fill="#5A5AFF" stroke="#5A5AFF" stroke-width="0.3"></rect>
<line x1="822.35" y1="561.10" x2="822.35" y2="581.50" stroke="#000" stroke-opacity="0.10" stroke-width="0.8"></line>
<rect x="802.00" y="581.50" width="40.70" height="20.6" fill="#fff" stroke="#2a2a2a" stroke-width="1.5"></rect>
<line x1="822.35" y1="581.50" x2="822.35" y2="602.10" stroke="#2a2a2a" stroke-width="1.5"></line>
<text x="812.2" y="596.7" font-size="11.5" font-family="'DejaVu Sans', 'Liberation Sans', sans-serif" text-anchor="middle" fill="#222" stroke="#222" stroke-width="0.1">1</text>
<text x="832.5" y="596.7" font-size="11.5" font-family="'DejaVu Sans', 'Liberation Sans', sans-serif" text-anchor="middle" fill="#222" stroke="#222" stroke-width="0.1">2</text>
<rect x="800.50" y="746.30" width="20.23" height="20.4" fill="#FF6464" stroke="#FF6464" stroke-width="0.3"></rect>
<rect x="820.73" y="746.30" width="20.23" height="20.4" fill="#FF6464" stroke="#FF6464" stroke-width="0.3"></rect>
<rect x="840.96" y="746.30" width="20.23" height="20.4" fill="#FF0000" stroke="#FF0000" stroke-width="0.3"></rect>
<rect x="861.19" y="746.30" width="20.23" height="20.4" fill="#FFB4B4" stroke="#FFB4B4" stroke-width="0.3"></rect>
<rect x="881.42" y="746.30" width="20.23" height="20.4" fill="#FF6464" stroke="#FF6464" stroke-width="0.3"></rect>
<rect x="901.65" y="746.30" width="20.23" height="20.4" fill="#FFE6E6" stroke="#FFE6E6" stroke-width="0.3"></rect>
<rect x="921.88" y="746.30" width="20.23" height="20.4" fill="#FF6464" stroke="#FF6464" stroke-width="0.3"></rect>
<rect x="942.11" y="746.30" width="20.23" height="20.4" fill="#FFE6E6" stroke="#FFE6E6" stroke-width="0.3"></rect>
<rect x="962.34" y="746.30" width="20.23" height="20.4" fill="#FFB4B4" stroke="#FFB4B4" stroke-width="0.3"></rect>
<line x1="820.73" y1="746.30" x2="820.73" y2="766.70" stroke="#000" stroke-opacity="0.10" stroke-width="0.8"></line>
<line x1="840.96" y1="746.30" x2="840.96" y2="766.70" stroke="#000" stroke-opacity="0.10" stroke-width="0.8"></line>
<line x1="861.19" y1="746.30" x2="861.19" y2="766.70" stroke="#000" stroke-opacity="0.10" stroke-width="0.8"></line>
<line x1="881.42" y1="746.30" x2="881.42" y2="766.70" stroke="#000" stroke-opacity="0.10" stroke-width="0.8"></line>
<line x1="901.65" y1="746.30" x2="901.65" y2="766.70" stroke="#000" stroke-opacity="0.10" stroke-width="0.8"></line>
<line x1="921.88" y1="746.30" x2="921.88" y2="766.70" stroke="#000" stroke-opacity="0.10" stroke-width="0.8"></line>
<line x1="942.11" y1="746.30" x2="942.11" y2="766.70" stroke="#000" stroke-opacity="0.10" stroke-width="0.8"></line>
<line x1="962.34" y1="746.30" x2="962.34" y2="766.70" stroke="#000" stroke-opacity="0.10" stroke-width="0.8"></line>
<rect x="800.50" y="766.70" width="182.07" height="20.6" fill="#fff" stroke="#2a2a2a" stroke-width="1.5"></rect>
<line x1="820.73" y1="766.70" x2="820.73" y2="787.30" stroke="#2a2a2a" stroke-width="1.5"></line>
<line x1="840.96" y1="766.70" x2="840.96" y2="787.30" stroke="#2a2a2a" stroke-width="1.5"></line>
<line x1="861.19" y1="766.70" x2="861.19" y2="787.30" stroke="#2a2a2a" stroke-width="1.5"></line>
<line x1="881.42" y1="766.70" x2="881.42" y2="787.30" stroke="#2a2a2a" stroke-width="1.5"></line>
<line x1="901.65" y1="766.70" x2="901.65" y2="787.30" stroke="#2a2a2a" stroke-width="1.5"></line>
<line x1="921.88" y1="766.70" x2="921.88" y2="787.30" stroke="#2a2a2a" stroke-width="1.5"></line>
<line x1="942.11" y1="766.70" x2="942.11" y2="787.30" stroke="#2a2a2a" stroke-width="1.5"></line>
<line x1="962.34" y1="766.70" x2="962.34" y2="787.30" stroke="#2a2a2a" stroke-width="1.5"></line>
<text x="810.6" y="781.9" font-size="11.5" font-family="'DejaVu Sans', 'Liberation Sans', sans-serif" text-anchor="middle" fill="#222" stroke="#222" stroke-width="0.1">1</text>
<text x="830.8" y="781.9" font-size="11.5" font-family="'DejaVu Sans', 'Liberation Sans', sans-serif" text-anchor="middle" fill="#222" stroke="#222" stroke-width="0.1">2</text>
<text x="851.1" y="781.9" font-size="11.5" font-family="'DejaVu Sans', 'Liberation Sans', sans-serif" text-anchor="middle" fill="#222" stroke="#222" stroke-width="0.1">3</text>
<text x="871.3" y="781.9" font-size="11.5" font-family="'DejaVu Sans', 'Liberation Sans', sans-serif" text-anchor="middle" fill="#222" stroke="#222" stroke-width="0.1">4</text>
<text x="891.5" y="781.9" font-size="11.5" font-family="'DejaVu Sans', 'Liberation Sans', sans-serif" text-anchor="middle" fill="#222" stroke="#222" stroke-width="0.1">5</text>
<text x="911.8" y="781.9" font-size="11.5" font-family="'DejaVu Sans', 'Liberation Sans', sans-serif" text-anchor="middle" fill="#222" stroke="#222" stroke-width="0.1">6</text>
<text x="932.0" y="781.9" font-size="11.5" font-family="'DejaVu Sans', 'Liberation Sans', sans-serif" text-anchor="middle" fill="#222" stroke="#222" stroke-width="0.1">7</text>
<text x="952.2" y="781.9" font-size="11.5" font-family="'DejaVu Sans', 'Liberation Sans', sans-serif" text-anchor="middle" fill="#222" stroke="#222" stroke-width="0.1">8</text>
<text x="972.5" y="781.9" font-size="11.5" font-family="'DejaVu Sans', 'Liberation Sans', sans-serif" text-anchor="middle" fill="#222" stroke="#222" stroke-width="0.1">9</text>
<rect x="800.50" y="838.20" width="20.45" height="20.4" fill="#FFE6E6" stroke="#FFE6E6" stroke-width="0.3"></rect>
<rect x="820.95" y="838.20" width="20.45" height="20.4" fill="#FF6464" stroke="#FF6464" stroke-width="0.3"></rect>
<line x1="820.95" y1="838.20" x2="820.95" y2="858.60" stroke="#000" stroke-opacity="0.10" stroke-width="0.8"></line>
<rect x="800.50" y="858.60" width="40.90" height="20.6" fill="#fff" stroke="#2a2a2a" stroke-width="1.5"></rect>
<line x1="820.95" y1="858.60" x2="820.95" y2="879.20" stroke="#2a2a2a" stroke-width="1.5"></line>
<text x="810.7" y="873.8" font-size="11.5" font-family="'DejaVu Sans', 'Liberation Sans', sans-serif" text-anchor="middle" fill="#222" stroke="#222" stroke-width="0.1">1</text>
<text x="831.2" y="873.8" font-size="11.5" font-family="'DejaVu Sans', 'Liberation Sans', sans-serif" text-anchor="middle" fill="#222" stroke="#222" stroke-width="0.1">2</text>
<rect x="800.50" y="886.40" width="20.00" height="20.4" fill="#DCDCFF" stroke="#DCDCFF" stroke-width="0.3"></rect>
<rect x="820.50" y="886.40" width="20.00" height="20.4" fill="#DCDCFF" stroke="#DCDCFF" stroke-width="0.3"></rect>
<rect x="840.50" y="886.40" width="20.00" height="20.4" fill="#5A5AFF" stroke="#5A5AFF" stroke-width="0.3"></rect>
<rect x="860.50" y="886.40" width="20.00" height="20.4" fill="#0000FF" stroke="#0000FF" stroke-width="0.3"></rect>
<rect x="880.50" y="886.40" width="20.00" height="20.4" fill="#5A5AFF" stroke="#5A5AFF" stroke-width="0.3"></rect>
<rect x="900.50" y="886.40" width="20.00" height="20.4" fill="#5A5AFF" stroke="#5A5AFF" stroke-width="0.3"></rect>
<line x1="820.50" y1="886.40" x2="820.50" y2="906.80" stroke="#000" stroke-opacity="0.10" stroke-width="0.8"></line>
<line x1="840.50" y1="886.40" x2="840.50" y2="906.80" stroke="#000" stroke-opacity="0.10" stroke-width="0.8"></line>
<line x1="860.50" y1="886.40" x2="860.50" y2="906.80" stroke="#000" stroke-opacity="0.10" stroke-width="0.8"></line>
<line x1="880.50" y1="886.40" x2="880.50" y2="906.80" stroke="#000" stroke-opacity="0.10" stroke-width="0.8"></line>
<line x1="900.50" y1="886.40" x2="900.50" y2="906.80" stroke="#000" stroke-opacity="0.10" stroke-width="0.8"></line>
<rect x="800.50" y="906.80" width="120.00" height="20.6" fill="#fff" stroke="#2a2a2a" stroke-width="1.5"></rect>
<line x1="820.50" y1="906.80" x2="820.50" y2="927.40" stroke="#2a2a2a" stroke-width="1.5"></line>
<line x1="840.50" y1="906.80" x2="840.50" y2="927.40" stroke="#2a2a2a" stroke-width="1.5"></line>
<line x1="860.50" y1="906.80" x2="860.50" y2="927.40" stroke="#2a2a2a" stroke-width="1.5"></line>
<line x1="880.50" y1="906.80" x2="880.50" y2="927.40" stroke="#2a2a2a" stroke-width="1.5"></line>
<line x1="900.50" y1="906.80" x2="900.50" y2="927.40" stroke="#2a2a2a" stroke-width="1.5"></line>
<text x="810.5" y="922.0" font-size="11.5" font-family="'DejaVu Sans', 'Liberation Sans', sans-serif" text-anchor="middle" fill="#222" stroke="#222" stroke-width="0.1">1</text>
<text x="830.5" y="922.0" font-size="11.5" font-family="'DejaVu Sans', 'Liberation Sans', sans-serif" text-anchor="middle" fill="#222" stroke="#222" stroke-width="0.1">2</text>
<text x="850.5" y="922.0" font-size="11.5" font-family="'DejaVu Sans', 'Liberation Sans', sans-serif" text-anchor="middle" fill="#222" stroke="#222" stroke-width="0.1">3</text>
<text x="870.5" y="922.0" font-size="11.5" font-family="'DejaVu Sans', 'Liberation Sans', sans-serif" text-anchor="middle" fill="#222" stroke="#222" stroke-width="0.1">4</text>
<text x="890.5" y="922.0" font-size="11.5" font-family="'DejaVu Sans', 'Liberation Sans', sans-serif" text-anchor="middle" fill="#222" stroke="#222" stroke-width="0.1">5</text>
<text x="910.5" y="922.0" font-size="11.5" font-family="'DejaVu Sans', 'Liberation Sans', sans-serif" text-anchor="middle" fill="#222" stroke="#222" stroke-width="0.1">6</text>
<rect x="800.50" y="931.50" width="20.60" height="20.4" fill="#FFE6E6" stroke="#FFE6E6" stroke-width="0.3"></rect>
<rect x="821.10" y="931.50" width="20.60" height="20.4" fill="#FF6464" stroke="#FF6464" stroke-width="0.3"></rect>
<rect x="841.70" y="931.50" width="20.60" height="20.4" fill="#FF0000" stroke="#FF0000" stroke-width="0.3"></rect>
<rect x="862.30" y="931.50" width="20.60" height="20.4" fill="#FFB4B4" stroke="#FFB4B4" stroke-width="0.3"></rect>
<rect x="882.90" y="931.50" width="20.60" height="20.4" fill="#FFB4B4" stroke="#FFB4B4" stroke-width="0.3"></rect>
<rect x="903.50" y="931.50" width="20.60" height="20.4" fill="#FF0000" stroke="#FF0000" stroke-width="0.3"></rect>
<rect x="924.10" y="931.50" width="20.60" height="20.4" fill="#FFB4B4" stroke="#FFB4B4" stroke-width="0.3"></rect>
<rect x="944.70" y="931.50" width="20.60" height="20.4" fill="#FF0000" stroke="#FF0000" stroke-width="0.3"></rect>
<rect x="965.30" y="931.50" width="20.60" height="20.4" fill="#FF0000" stroke="#FF0000" stroke-width="0.3"></rect>
<rect x="985.90" y="931.50" width="20.60" height="20.4" fill="#FFE6E6" stroke="#FFE6E6" stroke-width="0.3"></rect>
<rect x="1006.50" y="931.50" width="20.60" height="20.4" fill="#FF0000" stroke="#FF0000" stroke-width="0.3"></rect>
<rect x="1027.10" y="931.50" width="20.60" height="20.4" fill="#FFB4B4" stroke="#FFB4B4" stroke-width="0.3"></rect>
<rect x="1047.70" y="931.50" width="20.60" height="20.4" fill="#FF6464" stroke="#FF6464" stroke-width="0.3"></rect>
<rect x="1068.30" y="931.50" width="20.60" height="20.4" fill="#FFE6E6" stroke="#FFE6E6" stroke-width="0.3"></rect>
<line x1="821.10" y1="931.50" x2="821.10" y2="951.90" stroke="#000" stroke-opacity="0.10" stroke-width="0.8"></line>
<line x1="841.70" y1="931.50" x2="841.70" y2="951.90" stroke="#000" stroke-opacity="0.10" stroke-width="0.8"></line>
<line x1="862.30" y1="931.50" x2="862.30" y2="951.90" stroke="#000" stroke-opacity="0.10" stroke-width="0.8"></line>
<line x1="882.90" y1="931.50" x2="882.90" y2="951.90" stroke="#000" stroke-opacity="0.10" stroke-width="0.8"></line>
<line x1="903.50" y1="931.50" x2="903.50" y2="951.90" stroke="#000" stroke-opacity="0.10" stroke-width="0.8"></line>
<line x1="924.10" y1="931.50" x2="924.10" y2="951.90" stroke="#000" stroke-opacity="0.10" stroke-width="0.8"></line>
<line x1="944.70" y1="931.50" x2="944.70" y2="951.90" stroke="#000" stroke-opacity="0.10" stroke-width="0.8"></line>
<line x1="965.30" y1="931.50" x2="965.30" y2="951.90" stroke="#000" stroke-opacity="0.10" stroke-width="0.8"></line>
<line x1="985.90" y1="931.50" x2="985.90" y2="951.90" stroke="#000" stroke-opacity="0.10" stroke-width="0.8"></line>
<line x1="1006.50" y1="931.50" x2="1006.50" y2="951.90" stroke="#000" stroke-opacity="0.10" stroke-width="0.8"></line>
<line x1="1027.10" y1="931.50" x2="1027.10" y2="951.90" stroke="#000" stroke-opacity="0.10" stroke-width="0.8"></line>
<line x1="1047.70" y1="931.50" x2="1047.70" y2="951.90" stroke="#000" stroke-opacity="0.10" stroke-width="0.8"></line>
<line x1="1068.30" y1="931.50" x2="1068.30" y2="951.90" stroke="#000" stroke-opacity="0.10" stroke-width="0.8"></line>
<rect x="800.50" y="951.90" width="288.40" height="20.6" fill="#fff" stroke="#2a2a2a" stroke-width="1.5"></rect>
<line x1="821.10" y1="951.90" x2="821.10" y2="972.50" stroke="#2a2a2a" stroke-width="1.5"></line>
<line x1="841.70" y1="951.90" x2="841.70" y2="972.50" stroke="#2a2a2a" stroke-width="1.5"></line>
<line x1="862.30" y1="951.90" x2="862.30" y2="972.50" stroke="#2a2a2a" stroke-width="1.5"></line>
<line x1="882.90" y1="951.90" x2="882.90" y2="972.50" stroke="#2a2a2a" stroke-width="1.5"></line>
<line x1="903.50" y1="951.90" x2="903.50" y2="972.50" stroke="#2a2a2a" stroke-width="1.5"></line>
<line x1="924.10" y1="951.90" x2="924.10" y2="972.50" stroke="#2a2a2a" stroke-width="1.5"></line>
<line x1="944.70" y1="951.90" x2="944.70" y2="972.50" stroke="#2a2a2a" stroke-width="1.5"></line>
<line x1="965.30" y1="951.90" x2="965.30" y2="972.50" stroke="#2a2a2a" stroke-width="1.5"></line>
<line x1="985.90" y1="951.90" x2="985.90" y2="972.50" stroke="#2a2a2a" stroke-width="1.5"></line>
<line x1="1006.50" y1="951.90" x2="1006.50" y2="972.50" stroke="#2a2a2a" stroke-width="1.5"></line>
<line x1="1027.10" y1="951.90" x2="1027.10" y2="972.50" stroke="#2a2a2a" stroke-width="1.5"></line>
<line x1="1047.70" y1="951.90" x2="1047.70" y2="972.50" stroke="#2a2a2a" stroke-width="1.5"></line>
<line x1="1068.30" y1="951.90" x2="1068.30" y2="972.50" stroke="#2a2a2a" stroke-width="1.5"></line>
<text x="810.8" y="967.1" font-size="11.5" font-family="'DejaVu Sans', 'Liberation Sans', sans-serif" text-anchor="middle" fill="#222" stroke="#222" stroke-width="0.1">1</text>
<text x="831.4" y="967.1" font-size="11.5" font-family="'DejaVu Sans', 'Liberation Sans', sans-serif" text-anchor="middle" fill="#222" stroke="#222" stroke-width="0.1">2</text>
<text x="852.0" y="967.1" font-size="11.5" font-family="'DejaVu Sans', 'Liberation Sans', sans-serif" text-anchor="middle" fill="#222" stroke="#222" stroke-width="0.1">3</text>
<text x="872.6" y="967.1" font-size="11.5" font-family="'DejaVu Sans', 'Liberation Sans', sans-serif" text-anchor="middle" fill="#222" stroke="#222" stroke-width="0.1">4</text>
<text x="893.2" y="967.1" font-size="11.5" font-family="'DejaVu Sans', 'Liberation Sans', sans-serif" text-anchor="middle" fill="#222" stroke="#222" stroke-width="0.1">5</text>
<text x="913.8" y="967.1" font-size="11.5" font-family="'DejaVu Sans', 'Liberation Sans', sans-serif" text-anchor="middle" fill="#222" stroke="#222" stroke-width="0.1">6</text>
<text x="934.4" y="967.1" font-size="11.5" font-family="'DejaVu Sans', 'Liberation Sans', sans-serif" text-anchor="middle" fill="#222" stroke="#222" stroke-width="0.1">7</text>
<text x="955.0" y="967.1" font-size="11.5" font-family="'DejaVu Sans', 'Liberation Sans', sans-serif" text-anchor="middle" fill="#222" stroke="#222" stroke-width="0.1">8</text>
<text x="975.6" y="967.1" font-size="11.5" font-family="'DejaVu Sans', 'Liberation Sans', sans-serif" text-anchor="middle" fill="#222" stroke="#222" stroke-width="0.1">9</text>
<text x="996.2" y="967.1" font-size="11.5" font-family="'DejaVu Sans', 'Liberation Sans', sans-serif" text-anchor="middle" fill="#222" stroke="#222" stroke-width="0.1">10</text>
<text x="1016.8" y="967.1" font-size="11.5" font-family="'DejaVu Sans', 'Liberation Sans', sans-serif" text-anchor="middle" fill="#222" stroke="#222" stroke-width="0.1">11</text>
<text x="1037.4" y="967.1" font-size="11.5" font-family="'DejaVu Sans', 'Liberation Sans', sans-serif" text-anchor="middle" fill="#222" stroke="#222" stroke-width="0.1">12</text>
<text x="1058.0" y="967.1" font-size="11.5" font-family="'DejaVu Sans', 'Liberation Sans', sans-serif" text-anchor="middle" fill="#222" stroke="#222" stroke-width="0.1">13</text>
<text x="1078.6" y="967.1" font-size="11.5" font-family="'DejaVu Sans', 'Liberation Sans', sans-serif" text-anchor="middle" fill="#222" stroke="#222" stroke-width="0.1">14</text>
<rect x="800.50" y="979.50" width="20.30" height="20.4" fill="#0000FF" stroke="#0000FF" stroke-width="0.3"></rect>
<rect x="820.80" y="979.50" width="20.30" height="20.4" fill="#5A5AFF" stroke="#5A5AFF" stroke-width="0.3"></rect>
<rect x="841.10" y="979.50" width="20.30" height="20.4" fill="#0000FF" stroke="#0000FF" stroke-width="0.3"></rect>
<rect x="861.40" y="979.50" width="20.30" height="20.4" fill="#5A5AFF" stroke="#5A5AFF" stroke-width="0.3"></rect>
<rect x="881.70" y="979.50" width="20.30" height="20.4" fill="#5A5AFF" stroke="#5A5AFF" stroke-width="0.3"></rect>
<rect x="902.00" y="979.50" width="20.30" height="20.4" fill="#5A5AFF" stroke="#5A5AFF" stroke-width="0.3"></rect>
<line x1="820.80" y1="979.50" x2="820.80" y2="999.90" stroke="#000" stroke-opacity="0.10" stroke-width="0.8"></line>
<line x1="841.10" y1="979.50" x2="841.10" y2="999.90" stroke="#000" stroke-opacity="0.10" stroke-width="0.8"></line>
<line x1="861.40" y1="979.50" x2="861.40" y2="999.90" stroke="#000" stroke-opacity="0.10" stroke-width="0.8"></line>
<line x1="881.70" y1="979.50" x2="881.70" y2="999.90" stroke="#000" stroke-opacity="0.10" stroke-width="0.8"></line>
<line x1="902.00" y1="979.50" x2="902.00" y2="999.90" stroke="#000" stroke-opacity="0.10" stroke-width="0.8"></line>
<rect x="800.50" y="999.90" width="121.80" height="20.6" fill="#fff" stroke="#2a2a2a" stroke-width="1.5"></rect>
<line x1="820.80" y1="999.90" x2="820.80" y2="1020.50" stroke="#2a2a2a" stroke-width="1.5"></line>
<line x1="841.10" y1="999.90" x2="841.10" y2="1020.50" stroke="#2a2a2a" stroke-width="1.5"></line>
<line x1="861.40" y1="999.90" x2="861.40" y2="1020.50" stroke="#2a2a2a" stroke-width="1.5"></line>
<line x1="881.70" y1="999.90" x2="881.70" y2="1020.50" stroke="#2a2a2a" stroke-width="1.5"></line>
<line x1="902.00" y1="999.90" x2="902.00" y2="1020.50" stroke="#2a2a2a" stroke-width="1.5"></line>
<text x="810.6" y="1015.1" font-size="11.5" font-family="'DejaVu Sans', 'Liberation Sans', sans-serif" text-anchor="middle" fill="#222" stroke="#222" stroke-width="0.1">1</text>
<text x="830.9" y="1015.1" font-size="11.5" font-family="'DejaVu Sans', 'Liberation Sans', sans-serif" text-anchor="middle" fill="#222" stroke="#222" stroke-width="0.1">2</text>
<text x="851.2" y="1015.1" font-size="11.5" font-family="'DejaVu Sans', 'Liberation Sans', sans-serif" text-anchor="middle" fill="#222" stroke="#222" stroke-width="0.1">3</text>
<text x="871.5" y="1015.1" font-size="11.5" font-family="'DejaVu Sans', 'Liberation Sans', sans-serif" text-anchor="middle" fill="#222" stroke="#222" stroke-width="0.1">4</text>
<text x="891.9" y="1015.1" font-size="11.5" font-family="'DejaVu Sans', 'Liberation Sans', sans-serif" text-anchor="middle" fill="#222" stroke="#222" stroke-width="0.1">5</text>
<text x="912.1" y="1015.1" font-size="11.5" font-family="'DejaVu Sans', 'Liberation Sans', sans-serif" text-anchor="middle" fill="#222" stroke="#222" stroke-width="0.1">6</text>
<rect x="800.50" y="1026.10" width="20.55" height="20.4" fill="#5A5AFF" stroke="#5A5AFF" stroke-width="0.3"></rect>
<rect x="821.05" y="1026.10" width="20.55" height="20.4" fill="#0000FF" stroke="#0000FF" stroke-width="0.3"></rect>
<rect x="841.60" y="1026.10" width="20.55" height="20.4" fill="#DCDCFF" stroke="#DCDCFF" stroke-width="0.3"></rect>
<rect x="862.15" y="1026.10" width="20.55" height="20.4" fill="#5A5AFF" stroke="#5A5AFF" stroke-width="0.3"></rect>
<rect x="882.70" y="1026.10" width="20.55" height="20.4" fill="#0000FF" stroke="#0000FF" stroke-width="0.3"></rect>
<rect x="903.25" y="1026.10" width="20.55" height="20.4" fill="#0000FF" stroke="#0000FF" stroke-width="0.3"></rect>
<rect x="923.80" y="1026.10" width="20.55" height="20.4" fill="#0000FF" stroke="#0000FF" stroke-width="0.3"></rect>
<rect x="944.35" y="1026.10" width="20.55" height="20.4" fill="#9191FF" stroke="#9191FF" stroke-width="0.3"></rect>
<rect x="964.90" y="1026.10" width="20.55" height="20.4" fill="#DCDCFF" stroke="#DCDCFF" stroke-width="0.3"></rect>
<rect x="985.45" y="1026.10" width="20.55" height="20.4" fill="#5A5AFF" stroke="#5A5AFF" stroke-width="0.3"></rect>
<rect x="1006.00" y="1026.10" width="20.55" height="20.4" fill="#0000FF" stroke="#0000FF" stroke-width="0.3"></rect>
<line x1="821.05" y1="1026.10" x2="821.05" y2="1046.50" stroke="#000" stroke-opacity="0.10" stroke-width="0.8"></line>
<line x1="841.60" y1="1026.10" x2="841.60" y2="1046.50" stroke="#000" stroke-opacity="0.10" stroke-width="0.8"></line>
<line x1="862.15" y1="1026.10" x2="862.15" y2="1046.50" stroke="#000" stroke-opacity="0.10" stroke-width="0.8"></line>
<line x1="882.70" y1="1026.10" x2="882.70" y2="1046.50" stroke="#000" stroke-opacity="0.10" stroke-width="0.8"></line>
<line x1="903.25" y1="1026.10" x2="903.25" y2="1046.50" stroke="#000" stroke-opacity="0.10" stroke-width="0.8"></line>
<line x1="923.80" y1="1026.10" x2="923.80" y2="1046.50" stroke="#000" stroke-opacity="0.10" stroke-width="0.8"></line>
<line x1="944.35" y1="1026.10" x2="944.35" y2="1046.50" stroke="#000" stroke-opacity="0.10" stroke-width="0.8"></line>
<line x1="964.90" y1="1026.10" x2="964.90" y2="1046.50" stroke="#000" stroke-opacity="0.10" stroke-width="0.8"></line>
<line x1="985.45" y1="1026.10" x2="985.45" y2="1046.50" stroke="#000" stroke-opacity="0.10" stroke-width="0.8"></line>
<line x1="1006.00" y1="1026.10" x2="1006.00" y2="1046.50" stroke="#000" stroke-opacity="0.10" stroke-width="0.8"></line>
<rect x="800.50" y="1046.50" width="226.05" height="20.6" fill="#fff" stroke="#2a2a2a" stroke-width="1.5"></rect>
<line x1="821.05" y1="1046.50" x2="821.05" y2="1067.10" stroke="#2a2a2a" stroke-width="1.5"></line>
<line x1="841.60" y1="1046.50" x2="841.60" y2="1067.10" stroke="#2a2a2a" stroke-width="1.5"></line>
<line x1="862.15" y1="1046.50" x2="862.15" y2="1067.10" stroke="#2a2a2a" stroke-width="1.5"></line>
<line x1="882.70" y1="1046.50" x2="882.70" y2="1067.10" stroke="#2a2a2a" stroke-width="1.5"></line>
<line x1="903.25" y1="1046.50" x2="903.25" y2="1067.10" stroke="#2a2a2a" stroke-width="1.5"></line>
<line x1="923.80" y1="1046.50" x2="923.80" y2="1067.10" stroke="#2a2a2a" stroke-width="1.5"></line>
<line x1="944.35" y1="1046.50" x2="944.35" y2="1067.10" stroke="#2a2a2a" stroke-width="1.5"></line>
<line x1="964.90" y1="1046.50" x2="964.90" y2="1067.10" stroke="#2a2a2a" stroke-width="1.5"></line>
<line x1="985.45" y1="1046.50" x2="985.45" y2="1067.10" stroke="#2a2a2a" stroke-width="1.5"></line>
<line x1="1006.00" y1="1046.50" x2="1006.00" y2="1067.10" stroke="#2a2a2a" stroke-width="1.5"></line>
<text x="810.8" y="1061.7" font-size="11.5" font-family="'DejaVu Sans', 'Liberation Sans', sans-serif" text-anchor="middle" fill="#222" stroke="#222" stroke-width="0.1">1</text>
<text x="831.3" y="1061.7" font-size="11.5" font-family="'DejaVu Sans', 'Liberation Sans', sans-serif" text-anchor="middle" fill="#222" stroke="#222" stroke-width="0.1">2</text>
<text x="851.9" y="1061.7" font-size="11.5" font-family="'DejaVu Sans', 'Liberation Sans', sans-serif" text-anchor="middle" fill="#222" stroke="#222" stroke-width="0.1">3</text>
<text x="872.4" y="1061.7" font-size="11.5" font-family="'DejaVu Sans', 'Liberation Sans', sans-serif" text-anchor="middle" fill="#222" stroke="#222" stroke-width="0.1">4</text>
<text x="893.0" y="1061.7" font-size="11.5" font-family="'DejaVu Sans', 'Liberation Sans', sans-serif" text-anchor="middle" fill="#222" stroke="#222" stroke-width="0.1">5</text>
<text x="913.5" y="1061.7" font-size="11.5" font-family="'DejaVu Sans', 'Liberation Sans', sans-serif" text-anchor="middle" fill="#222" stroke="#222" stroke-width="0.1">6</text>
<text x="934.1" y="1061.7" font-size="11.5" font-family="'DejaVu Sans', 'Liberation Sans', sans-serif" text-anchor="middle" fill="#222" stroke="#222" stroke-width="0.1">7</text>
<text x="954.6" y="1061.7" font-size="11.5" font-family="'DejaVu Sans', 'Liberation Sans', sans-serif" text-anchor="middle" fill="#222" stroke="#222" stroke-width="0.1">8</text>
<text x="975.2" y="1061.7" font-size="11.5" font-family="'DejaVu Sans', 'Liberation Sans', sans-serif" text-anchor="middle" fill="#222" stroke="#222" stroke-width="0.1">9</text>
<text x="995.7" y="1061.7" font-size="11.5" font-family="'DejaVu Sans', 'Liberation Sans', sans-serif" text-anchor="middle" fill="#222" stroke="#222" stroke-width="0.1">10</text>
<text x="1016.3" y="1061.7" font-size="11.5" font-family="'DejaVu Sans', 'Liberation Sans', sans-serif" text-anchor="middle" fill="#222" stroke="#222" stroke-width="0.1">11</text>
<text x="846.0" y="55.0" font-size="18.6" font-family="Carlito, 'Liberation Sans', sans-serif" font-weight="bold" text-anchor="middle" fill="#000" stroke="#000" stroke-width="0.15" textLength="40.06" lengthAdjust="spacingAndGlyphs">Least</text>
<text x="846.0" y="77.0" font-size="18.6" font-family="Carlito, 'Liberation Sans', sans-serif" font-weight="bold" text-anchor="middle" fill="#000" stroke="#000" stroke-width="0.15" textLength="77.53" lengthAdjust="spacingAndGlyphs">expressed</text>
<text x="954.5" y="55.0" font-size="18.6" font-family="Carlito, 'Liberation Sans', sans-serif" font-weight="bold" text-anchor="middle" fill="#000" stroke="#000" stroke-width="0.15" textLength="39.91" lengthAdjust="spacingAndGlyphs">Most</text>
<text x="954.5" y="77.0" font-size="18.6" font-family="Carlito, 'Liberation Sans', sans-serif" font-weight="bold" text-anchor="middle" fill="#000" stroke="#000" stroke-width="0.15" textLength="77.53" lengthAdjust="spacingAndGlyphs">expressed</text>
<rect x="802.3" y="115.5" width="15.5" height="15.3" rx="1.5" fill="#0000FF" stroke="#222" stroke-width="1.6"></rect>
<text x="810.0" y="109.5" font-size="11.5" font-family="'DejaVu Sans', 'Liberation Sans', sans-serif" text-anchor="middle" fill="#222" stroke="#222" stroke-width="0.1">1</text>
<rect x="825.1" y="115.5" width="15.5" height="15.3" rx="1.5" fill="#5A5AFF" stroke="#222" stroke-width="1.6"></rect>
<text x="832.9" y="109.5" font-size="11.5" font-family="'DejaVu Sans', 'Liberation Sans', sans-serif" text-anchor="middle" fill="#222" stroke="#222" stroke-width="0.1">5</text>
<rect x="847.2" y="115.5" width="15.5" height="15.3" rx="1.5" fill="#9191FF" stroke="#222" stroke-width="1.6"></rect>
<text x="855.0" y="109.5" font-size="11.5" font-family="'DejaVu Sans', 'Liberation Sans', sans-serif" text-anchor="middle" fill="#222" stroke="#222" stroke-width="0.1">10</text>
<rect x="869.7" y="115.5" width="15.5" height="15.3" rx="1.5" fill="#DCDCFF" stroke="#222" stroke-width="1.6"></rect>
<text x="877.5" y="109.5" font-size="11.5" font-family="'DejaVu Sans', 'Liberation Sans', sans-serif" text-anchor="middle" fill="#222" stroke="#222" stroke-width="0.1">25</text>
<rect x="892.3" y="115.5" width="15.5" height="15.3" rx="1.5" fill="#FFFFFF" stroke="#222" stroke-width="1.6"></rect>
<rect x="915.0" y="115.5" width="15.5" height="15.3" rx="1.5" fill="#FFE6E6" stroke="#222" stroke-width="1.6"></rect>
<text x="922.8" y="109.5" font-size="11.5" font-family="'DejaVu Sans', 'Liberation Sans', sans-serif" text-anchor="middle" fill="#222" stroke="#222" stroke-width="0.1">25</text>
<rect x="936.9" y="115.5" width="15.5" height="15.3" rx="1.5" fill="#FFB4B4" stroke="#222" stroke-width="1.6"></rect>
<text x="944.6" y="109.5" font-size="11.5" font-family="'DejaVu Sans', 'Liberation Sans', sans-serif" text-anchor="middle" fill="#222" stroke="#222" stroke-width="0.1">10</text>
<rect x="959.2" y="115.5" width="15.5" height="15.3" rx="1.5" fill="#FF6464" stroke="#222" stroke-width="1.6"></rect>
<text x="967.0" y="109.5" font-size="11.5" font-family="'DejaVu Sans', 'Liberation Sans', sans-serif" text-anchor="middle" fill="#222" stroke="#222" stroke-width="0.1">5</text>
<rect x="982.0" y="115.5" width="15.5" height="15.3" rx="1.5" fill="#FF0000" stroke="#222" stroke-width="1.6"></rect>
<text x="989.8" y="109.5" font-size="11.5" font-family="'DejaVu Sans', 'Liberation Sans', sans-serif" text-anchor="middle" fill="#222" stroke="#222" stroke-width="0.1">1</text>
<line x1="812" y1="138.6" x2="887" y2="138.6" stroke="#222" stroke-width="1.2"></line>
<path d="M808 138.6 L815 135.8 L815 141.4 Z" fill="#222"></path>
<line x1="915" y1="138.6" x2="990" y2="138.6" stroke="#222" stroke-width="1.2"></line>
<path d="M994 138.6 L987 135.8 L987 141.4 Z" fill="#222"></path>
<text x="900.0" y="143.0" font-size="10" font-family="'DejaVu Sans', 'Liberation Sans', sans-serif" text-anchor="middle" fill="#555">%</text>
<text x="10.4" y="26.5" font-size="53" font-family="Carlito, 'Liberation Sans', sans-serif" fill="#000" stroke="#000" stroke-width="0.6" textLength="25.39" lengthAdjust="spacingAndGlyphs">a</text>
<path d="M1356.30,75.30 A223.0,223.0 0 0 1 1467.80,105.18 L1422.60,183.47 A132.6,132.6 0 0 0 1356.30,165.70 Z" fill="#E5B5B6"></path>
<path d="M1244.80,105.18 A223.0,223.0 0 0 1 1356.30,75.30 L1356.30,165.70 A132.6,132.6 0 0 0 1290.00,183.47 Z" fill="#9DD4AF"></path>
<path d="M1467.80,105.18 A223.0,223.0 0 0 1 1549.42,186.80 L1471.13,232.00 A132.6,132.6 0 0 0 1422.60,183.47 Z" fill="#EBCFD1"></path>
<path d="M1163.18,186.80 A223.0,223.0 0 0 1 1244.80,105.18 L1290.00,183.47 A132.6,132.6 0 0 0 1241.47,232.00 Z" fill="#C7E4D1"></path>
<path d="M1549.42,186.80 A223.0,223.0 0 0 1 1579.30,298.30 L1488.90,298.30 A132.6,132.6 0 0 0 1471.13,232.00 Z" fill="#DD9B9C"></path>
<path d="M1133.30,298.30 A223.0,223.0 0 0 1 1163.18,186.80 L1241.47,232.00 A132.6,132.6 0 0 0 1223.70,298.30 Z" fill="#B0DDBF"></path>
<path d="M1579.30,298.30 A223.0,223.0 0 0 1 1549.42,409.80 L1471.13,364.60 A132.6,132.6 0 0 0 1488.90,298.30 Z" fill="#EBD6D7"></path>
<path d="M1163.18,409.80 A223.0,223.0 0 0 1 1133.30,298.30 L1223.70,298.30 A132.6,132.6 0 0 0 1241.47,364.60 Z" fill="#C9E5D2"></path>
<path d="M1549.42,409.80 A223.0,223.0 0 0 1 1467.80,491.42 L1422.60,413.13 A132.6,132.6 0 0 0 1471.13,364.60 Z" fill="#EBD1D3"></path>
<path d="M1244.80,491.42 A223.0,223.0 0 0 1 1163.18,409.80 L1241.47,364.60 A132.6,132.6 0 0 0 1290.00,413.13 Z" fill="#D1EAD9"></path>
<path d="M1467.80,491.42 A223.0,223.0 0 0 1 1356.30,521.30 L1356.30,430.90 A132.6,132.6 0 0 0 1422.60,413.13 Z" fill="#DA8587"></path>
<path d="M1356.30,521.30 A223.0,223.0 0 0 1 1244.80,491.42 L1290.00,413.13 A132.6,132.6 0 0 0 1356.30,430.90 Z" fill="#5BC281"></path>
<path d="M1356.3,180.8 A117.5,117.5 0 0 1 1356.3,415.8 Z" fill="#E6B7B8"></path>
<path d="M1356.3,180.8 A117.5,117.5 0 0 0 1356.3,415.8 Z" fill="#AEDBBD"></path>
<line x1="1422.10" y1="184.33" x2="1468.30" y2="104.31" stroke="#fff" stroke-width="2"></line>
<line x1="1470.27" y1="232.50" x2="1550.29" y2="186.30" stroke="#fff" stroke-width="2"></line>
<line x1="1487.90" y1="298.30" x2="1580.30" y2="298.30" stroke="#fff" stroke-width="2"></line>
<line x1="1470.27" y1="364.10" x2="1550.29" y2="410.30" stroke="#fff" stroke-width="2"></line>
<line x1="1422.10" y1="412.27" x2="1468.30" y2="492.29" stroke="#fff" stroke-width="2"></line>
<line x1="1290.50" y1="412.27" x2="1244.30" y2="492.29" stroke="#fff" stroke-width="2"></line>
<line x1="1242.33" y1="364.10" x2="1162.31" y2="410.30" stroke="#fff" stroke-width="2"></line>
<line x1="1224.70" y1="298.30" x2="1132.30" y2="298.30" stroke="#fff" stroke-width="2"></line>
<line x1="1242.33" y1="232.50" x2="1162.31" y2="186.30" stroke="#fff" stroke-width="2"></line>
<line x1="1290.50" y1="184.33" x2="1244.30" y2="104.31" stroke="#fff" stroke-width="2"></line>
<line x1="1356.3" y1="74.30000000000001" x2="1356.3" y2="522.3" stroke="#fff" stroke-width="2"></line>
<text x="1398.3" y="131.0" font-size="15" font-family="'Liberation Sans', Arial, sans-serif" text-anchor="middle" dominant-baseline="central" transform="rotate(-75.0 1398.3 131.0)">YWHAZ</text>
<text x="1316.4" y="131.0" font-size="15" font-family="'Liberation Sans', Arial, sans-serif" text-anchor="middle" dominant-baseline="central" transform="rotate(75.0 1316.4 131.0)">YWHAZ</text>
<text x="1480.1" y="174.6" font-size="15" font-family="'Liberation Sans', Arial, sans-serif" text-anchor="middle" dominant-baseline="central" transform="rotate(-45.0 1480.1 174.6)">NDRG1</text>
<text x="1232.8" y="174.6" font-size="15" font-family="'Liberation Sans', Arial, sans-serif" text-anchor="middle" dominant-baseline="central" transform="rotate(45.0 1232.8 174.6)">NDRG1</text>
<text x="1529.2" y="252.8" font-size="15" font-family="'Liberation Sans', Arial, sans-serif" text-anchor="middle" dominant-baseline="central" transform="rotate(-15.0 1529.2 252.8)">APOE</text>
<text x="1182.9" y="254.6" font-size="15" font-family="'Liberation Sans', Arial, sans-serif" text-anchor="middle" dominant-baseline="central" transform="rotate(15.0 1182.9 254.6)">APOE</text>
<text x="1530.3" y="345.6" font-size="15" font-family="'Liberation Sans', Arial, sans-serif" text-anchor="middle" dominant-baseline="central" transform="rotate(15.0 1530.3 345.6)">DDAH1</text>
<text x="1180.8" y="347.4" font-size="15" font-family="'Liberation Sans', Arial, sans-serif" text-anchor="middle" dominant-baseline="central" transform="rotate(-15.0 1180.8 347.4)">DDAH1</text>
<text x="1487.4" y="429.2" font-size="15" font-family="'Liberation Sans', Arial, sans-serif" text-anchor="middle" dominant-baseline="central" transform="rotate(45.0 1487.4 429.2)">SLC12A2</text>
<text x="1225.5" y="429.2" font-size="15" font-family="'Liberation Sans', Arial, sans-serif" text-anchor="middle" dominant-baseline="central" transform="rotate(-45.0 1225.5 429.2)">SLC12A2</text>
<text x="1407.4" y="476.5" font-size="15" font-family="'Liberation Sans', Arial, sans-serif" text-anchor="middle" dominant-baseline="central" transform="rotate(75.0 1407.4 476.5)">GDF15</text>
<text x="1305.5" y="476.5" font-size="15" font-family="'Liberation Sans', Arial, sans-serif" text-anchor="middle" dominant-baseline="central" transform="rotate(-75.0 1305.5 476.5)">GDF15</text>
<text x="1298.3" y="303.7" font-size="29.5" font-family="Carlito, 'Liberation Sans', sans-serif" text-anchor="middle" fill="#000" stroke="#000" stroke-width="0.4" textLength="98.66" lengthAdjust="spacingAndGlyphs">Proteins</text>
<text x="1411.0" y="303.7" font-size="29.5" font-family="Carlito, 'Liberation Sans', sans-serif" text-anchor="middle" fill="#000" stroke="#000" stroke-width="0.4" textLength="75.02" lengthAdjust="spacingAndGlyphs">Genes</text>
<text x="1042.9" y="26.5" font-size="53" font-family="Carlito, 'Liberation Sans', sans-serif" fill="#000" stroke="#000" stroke-width="0.6" textLength="22.42" lengthAdjust="spacingAndGlyphs">c</text>
<defs>
<linearGradient id="gG" x1="0" y1="0" x2="0" y2="1">
<stop offset="0" stop-color="#008800"></stop><stop offset="0.15" stop-color="#008F00"></stop><stop offset="0.3" stop-color="#00A030"></stop><stop offset="0.42" stop-color="#00B25A"></stop>
<stop offset="0.5" stop-color="#3DB46D"></stop><stop offset="0.57" stop-color="#5BBE80"></stop><stop offset="0.67" stop-color="#80CB98"></stop><stop offset="0.81" stop-color="#B2DEC0"></stop><stop offset="0.95" stop-color="#E2ECE5"></stop><stop offset="1" stop-color="#EFEFEF"></stop></linearGradient>
<linearGradient id="gR" x1="0" y1="0" x2="0" y2="1">
<stop offset="0" stop-color="#A00000"></stop><stop offset="0.1" stop-color="#B01818"></stop><stop offset="0.2" stop-color="#C24444"></stop><stop offset="0.3" stop-color="#D47878"></stop><stop offset="0.4" stop-color="#E4B0B0"></stop><stop offset="0.45" stop-color="#EAD2D2"></stop><stop offset="0.5" stop-color="#F0F0F0"></stop>
<stop offset="0.6" stop-color="#C8C8E4"></stop><stop offset="0.7" stop-color="#9C9CD0"></stop><stop offset="0.8" stop-color="#6A6AB8"></stop><stop offset="0.9" stop-color="#3434A4"></stop><stop offset="1" stop-color="#00008C"></stop></linearGradient>
</defs>
<rect x="1183.6" y="644.5" width="72" height="289.5" fill="url(#gG)"></rect>
<rect x="1404.5" y="644.5" width="72" height="289.5" fill="url(#gR)"></rect>
<line x1="1170" y1="644.5" x2="1183.6" y2="644.5" stroke="#111" stroke-width="2.6"></line>
<line x1="1255.6" y1="644.5" x2="1269" y2="644.5" stroke="#111" stroke-width="2.6"></line>
<line x1="1390.9" y1="644.5" x2="1404.5" y2="644.5" stroke="#111" stroke-width="2.6"></line>
<line x1="1476.5" y1="644.5" x2="1489.9" y2="644.5" stroke="#111" stroke-width="2.6"></line>
<line x1="1170" y1="789.2" x2="1183.6" y2="789.2" stroke="#111" stroke-width="2.6"></line>
<line x1="1255.6" y1="789.2" x2="1269" y2="789.2" stroke="#111" stroke-width="2.6"></line>
<line x1="1390.9" y1="789.2" x2="1404.5" y2="789.2" stroke="#111" stroke-width="2.6"></line>
<line x1="1476.5" y1="789.2" x2="1489.9" y2="789.2" stroke="#111" stroke-width="2.6"></line>
<line x1="1170" y1="934.0" x2="1183.6" y2="934.0" stroke="#111" stroke-width="2.6"></line>
<line x1="1255.6" y1="934.0" x2="1269" y2="934.0" stroke="#111" stroke-width="2.6"></line>
<line x1="1390.9" y1="934.0" x2="1404.5" y2="934.0" stroke="#111" stroke-width="2.6"></line>
<line x1="1476.5" y1="934.0" x2="1489.9" y2="934.0" stroke="#111" stroke-width="2.6"></line>
<text x="1156.5" y="651.7" font-size="17.5" font-family="'Liberation Sans', Arial, sans-serif" text-anchor="middle" fill="#000" stroke="#000" stroke-width="0.4">20</text>
<text x="1282.2" y="651.7" font-size="17.5" font-family="'Liberation Sans', Arial, sans-serif" text-anchor="middle" fill="#000" stroke="#000" stroke-width="0.4">20</text>
<text x="1156.5" y="796.5" font-size="17.5" font-family="'Liberation Sans', Arial, sans-serif" text-anchor="middle" fill="#000" stroke="#000" stroke-width="0.4">10</text>
<text x="1282.2" y="796.5" font-size="17.5" font-family="'Liberation Sans', Arial, sans-serif" text-anchor="middle" fill="#000" stroke="#000" stroke-width="0.4">10</text>
<text x="1156.5" y="941.2" font-size="17.5" font-family="'Liberation Sans', Arial, sans-serif" text-anchor="middle" fill="#000" stroke="#000" stroke-width="0.4">0</text>
<text x="1282.2" y="941.2" font-size="17.5" font-family="'Liberation Sans', Arial, sans-serif" text-anchor="middle" fill="#000" stroke="#000" stroke-width="0.4">0</text>
<text x="1377.3" y="651.7" font-size="17.5" font-family="'Liberation Sans', Arial, sans-serif" text-anchor="middle" fill="#000" stroke="#000" stroke-width="0.4">+4</text>
<text x="1503.6" y="651.7" font-size="17.5" font-family="'Liberation Sans', Arial, sans-serif" text-anchor="middle" fill="#000" stroke="#000" stroke-width="0.4">+4</text>
<text x="1377.3" y="796.5" font-size="17.5" font-family="'Liberation Sans', Arial, sans-serif" text-anchor="middle" fill="#000" stroke="#000" stroke-width="0.4">0</text>
<text x="1503.6" y="796.5" font-size="17.5" font-family="'Liberation Sans', Arial, sans-serif" text-anchor="middle" fill="#000" stroke="#000" stroke-width="0.4">0</text>
<text x="1377.3" y="941.2" font-size="17.5" font-family="'Liberation Sans', Arial, sans-serif" text-anchor="middle" fill="#000" stroke="#000" stroke-width="0.4">-4</text>
<text x="1503.6" y="941.2" font-size="17.5" font-family="'Liberation Sans', Arial, sans-serif" text-anchor="middle" fill="#000" stroke="#000" stroke-width="0.4">-4</text>
<text x="0" y="0" font-size="31.2" font-family="Carlito, 'Liberation Sans', sans-serif" text-anchor="middle" stroke="#000" stroke-width="0.4" transform="translate(1325.5 787.5) rotate(-90)" textLength="69.31" lengthAdjust="spacingAndGlyphs">PSMs</text>
<text x="0" y="0" font-size="32.5" font-family="Carlito, 'Liberation Sans', sans-serif" text-anchor="middle" stroke="#000" stroke-width="0.4" transform="translate(1545.0 793.5) rotate(-90)" textLength="237.84" lengthAdjust="spacingAndGlyphs">log2(Fold Change)</text>
<text x="0" y="0" font-size="32.8" font-family="Carlito, 'Liberation Sans', sans-serif" text-anchor="middle" stroke="#000" stroke-width="0.4" transform="translate(1584.6 792.0) rotate(-90)" textLength="361.33" lengthAdjust="spacingAndGlyphs">Tumor vs. Normal Adjacent</text>
<path d="M89.8,1272.2 L89.8,1680.7 L496.6,1680.7" fill="none" stroke="#000" stroke-width="1.9"></path>
<line x1="81.8" y1="1272.9" x2="89.8" y2="1272.9" stroke="#000" stroke-width="1.9"></line>
<text x="77.1" y="1280.5" font-size="23" font-family="Carlito, 'Liberation Sans', sans-serif" text-anchor="end" fill="#000" stroke="#000" stroke-width="0.4" textLength="29.13" lengthAdjust="spacingAndGlyphs">0.4</text>
<line x1="81.8" y1="1363.5" x2="89.8" y2="1363.5" stroke="#000" stroke-width="1.9"></line>
<text x="77.1" y="1371.1" font-size="23" font-family="Carlito, 'Liberation Sans', sans-serif" text-anchor="end" fill="#000" stroke="#000" stroke-width="0.4" textLength="29.13" lengthAdjust="spacingAndGlyphs">0.3</text>
<line x1="81.8" y1="1454.1" x2="89.8" y2="1454.1" stroke="#000" stroke-width="1.9"></line>
<text x="77.1" y="1461.7" font-size="23" font-family="Carlito, 'Liberation Sans', sans-serif" text-anchor="end" fill="#000" stroke="#000" stroke-width="0.4" textLength="29.13" lengthAdjust="spacingAndGlyphs">0.2</text>
<line x1="81.8" y1="1544.6" x2="89.8" y2="1544.6" stroke="#000" stroke-width="1.9"></line>
<text x="77.1" y="1552.2" font-size="23" font-family="Carlito, 'Liberation Sans', sans-serif" text-anchor="end" fill="#000" stroke="#000" stroke-width="0.4" textLength="29.13" lengthAdjust="spacingAndGlyphs">0.1</text>
<line x1="81.8" y1="1635.2" x2="89.8" y2="1635.2" stroke="#000" stroke-width="1.9"></line>
<text x="77.1" y="1642.8" font-size="23" font-family="Carlito, 'Liberation Sans', sans-serif" text-anchor="end" fill="#000" stroke="#000" stroke-width="0.4" textLength="29.13" lengthAdjust="spacingAndGlyphs">0.0</text>
<line x1="191.5" y1="1680.7" x2="191.5" y2="1688.7" stroke="#000" stroke-width="1.9"></line>
<text x="191.5" y="1709.7" font-size="23" font-family="Carlito, 'Liberation Sans', sans-serif" text-anchor="middle" fill="#000" stroke="#000" stroke-width="0.4" textLength="155.23" lengthAdjust="spacingAndGlyphs">Normal adjacent</text>
<line x1="394.9" y1="1680.7" x2="394.9" y2="1688.7" stroke="#000" stroke-width="1.9"></line>
<text x="394.9" y="1709.7" font-size="23" font-family="Carlito, 'Liberation Sans', sans-serif" text-anchor="middle" fill="#000" stroke="#000" stroke-width="0.4" textLength="60.39" lengthAdjust="spacingAndGlyphs">Tumor</text>
<line x1="191.5" y1="1521.4" x2="191.5" y2="1635.3" stroke="#000" stroke-width="1.9"></line>
<line x1="166.5" y1="1521.4" x2="216.5" y2="1521.4" stroke="#000" stroke-width="1.9"></line>
<line x1="166.5" y1="1635.3" x2="216.5" y2="1635.3" stroke="#000" stroke-width="1.9"></line>
<rect x="140.7" y="1579" width="101.7" height="48.0" fill="#1477C2" stroke="#000" stroke-width="1.8"></rect>
<line x1="140.7" y1="1607.8" x2="242.4" y2="1607.8" stroke="#000" stroke-width="1.9"></line>
<line x1="394.9" y1="1458" x2="394.9" y2="1635.3" stroke="#000" stroke-width="1.9"></line>
<line x1="369.9" y1="1458" x2="419.9" y2="1458" stroke="#000" stroke-width="1.9"></line>
<line x1="369.9" y1="1635.3" x2="419.9" y2="1635.3" stroke="#000" stroke-width="1.9"></line>
<rect x="344" y="1555.3" width="102.8" height="68.4" fill="#1477C2" stroke="#000" stroke-width="1.8"></rect>
<line x1="344" y1="1600" x2="446.8" y2="1600" stroke="#000" stroke-width="1.9"></line>
<circle cx="191.5" cy="1480.7" r="3.6" fill="#000"></circle>
<rect x="391.6" y="1305.5" width="6.6" height="6.6" fill="#000"></rect>
<rect x="400.1" y="1318.1" width="6.6" height="6.6" fill="#000"></rect>
<circle cx="394.9" cy="1324.7" r="3.6" fill="#000"></circle>
<circle cx="386.4" cy="1397.6" r="3.6" fill="#000"></circle>
<circle cx="394.9" cy="1406.1" r="3.6" fill="#000"></circle>
<circle cx="386.4" cy="1418.6" r="3.6" fill="#000"></circle>
<rect x="400.1" y="1415.3" width="6.6" height="6.6" fill="#000"></rect>
<circle cx="394.9" cy="1425.4" r="3.6" fill="#000"></circle>
<circle cx="378.0" cy="1431.5" r="3.6" fill="#000"></circle>
<rect x="383.1" y="1430.9" width="6.6" height="6.6" fill="#000"></rect>
<circle cx="394.9" cy="1434.9" r="3.6" fill="#000"></circle>
<rect x="400.1" y="1428.9" width="6.6" height="6.6" fill="#000"></rect>
<rect x="408.6" y="1427.2" width="6.6" height="6.6" fill="#000"></rect>
<circle cx="386.4" cy="1447.5" r="3.6" fill="#000"></circle>
<rect x="391.6" y="1446.9" width="6.6" height="6.6" fill="#000"></rect>
<circle cx="403.4" cy="1449.5" r="3.6" fill="#000"></circle>
<circle cx="411.9" cy="1446.8" r="3.6" fill="#000"></circle>
<text x="286.4" y="1236.0" font-size="36" font-family="Carlito, 'Liberation Sans', sans-serif" font-style="italic" text-anchor="middle" fill="#000" stroke="#000" stroke-width="0.4" textLength="124.66" lengthAdjust="spacingAndGlyphs">SLC12A2</text>
<text x="432.0" y="1250.0" font-size="23" font-family="Carlito, 'Liberation Sans', sans-serif" fill="#000" stroke="#000" stroke-width="0.4" textLength="75.78" lengthAdjust="spacingAndGlyphs">P=0.025</text>
<text x="0" y="0" font-size="30.6" font-family="Carlito, 'Liberation Sans', sans-serif" text-anchor="middle" stroke="#000" stroke-width="0.4" transform="translate(24.4 1476.0) rotate(-90)" textLength="218.16" lengthAdjust="spacingAndGlyphs">mRNA expression</text>
<path d="M685.9,1269.2 L685.9,1678.4 L1092.7,1678.4" fill="none" stroke="#000" stroke-width="1.9"></path>
<line x1="677.9" y1="1269.2" x2="685.9" y2="1269.2" stroke="#000" stroke-width="1.9"></line>
<text x="675.7" y="1276.8" font-size="23" font-family="Carlito, 'Liberation Sans', sans-serif" text-anchor="end" fill="#000" stroke="#000" stroke-width="0.4" textLength="34.98" lengthAdjust="spacingAndGlyphs">250</text>
<line x1="677.9" y1="1351" x2="685.9" y2="1351" stroke="#000" stroke-width="1.9"></line>
<text x="675.7" y="1358.6" font-size="23" font-family="Carlito, 'Liberation Sans', sans-serif" text-anchor="end" fill="#000" stroke="#000" stroke-width="0.4" textLength="34.98" lengthAdjust="spacingAndGlyphs">200</text>
<line x1="677.9" y1="1432.9" x2="685.9" y2="1432.9" stroke="#000" stroke-width="1.9"></line>
<text x="675.7" y="1440.5" font-size="23" font-family="Carlito, 'Liberation Sans', sans-serif" text-anchor="end" fill="#000" stroke="#000" stroke-width="0.4" textLength="34.98" lengthAdjust="spacingAndGlyphs">150</text>
<line x1="677.9" y1="1514.7" x2="685.9" y2="1514.7" stroke="#000" stroke-width="1.9"></line>
<text x="675.7" y="1522.3" font-size="23" font-family="Carlito, 'Liberation Sans', sans-serif" text-anchor="end" fill="#000" stroke="#000" stroke-width="0.4" textLength="34.98" lengthAdjust="spacingAndGlyphs">100</text>
<line x1="677.9" y1="1596.6" x2="685.9" y2="1596.6" stroke="#000" stroke-width="1.9"></line>
<text x="675.7" y="1604.2" font-size="23" font-family="Carlito, 'Liberation Sans', sans-serif" text-anchor="end" fill="#000" stroke="#000" stroke-width="0.4" textLength="23.33" lengthAdjust="spacingAndGlyphs">50</text>
<line x1="677.9" y1="1678.4" x2="685.9" y2="1678.4" stroke="#000" stroke-width="1.9"></line>
<text x="675.7" y="1686.0" font-size="23" font-family="Carlito, 'Liberation Sans', sans-serif" text-anchor="end" fill="#000" stroke="#000" stroke-width="0.4" textLength="11.67" lengthAdjust="spacingAndGlyphs">0</text>
<line x1="788" y1="1678.4" x2="788" y2="1686.4" stroke="#000" stroke-width="1.9"></line>
<text x="788.0" y="1707.4" font-size="23" font-family="Carlito, 'Liberation Sans', sans-serif" text-anchor="middle" fill="#000" stroke="#000" stroke-width="0.4" textLength="155.23" lengthAdjust="spacingAndGlyphs">Normal adjacent</text>
<line x1="992.8" y1="1678.4" x2="992.8" y2="1686.4" stroke="#000" stroke-width="1.9"></line>
<text x="992.8" y="1707.4" font-size="23" font-family="Carlito, 'Liberation Sans', sans-serif" text-anchor="middle" fill="#000" stroke="#000" stroke-width="0.4" textLength="60.39" lengthAdjust="spacingAndGlyphs">Tumor</text>
<line x1="788" y1="1550.2" x2="788" y2="1656.1" stroke="#000" stroke-width="1.9"></line>
<line x1="763" y1="1550.2" x2="813" y2="1550.2" stroke="#000" stroke-width="1.9"></line>
<line x1="763" y1="1656.1" x2="813" y2="1656.1" stroke="#000" stroke-width="1.9"></line>
<rect x="737.1" y="1592.2" width="101.6" height="42.3" fill="#1477C2" stroke="#000" stroke-width="1.8"></rect>
<line x1="737.1" y1="1615.1" x2="838.7" y2="1615.1" stroke="#000" stroke-width="1.9"></line>
<line x1="992.8" y1="1487" x2="992.8" y2="1653.4" stroke="#000" stroke-width="1.9"></line>
<line x1="967.8" y1="1487" x2="1017.8" y2="1487" stroke="#000" stroke-width="1.9"></line>
<line x1="967.8" y1="1653.4" x2="1017.8" y2="1653.4" stroke="#000" stroke-width="1.9"></line>
<rect x="941.9" y="1560.2" width="101.5" height="49.3" fill="#1477C2" stroke="#000" stroke-width="1.8"></rect>
<line x1="941.9" y1="1584.8" x2="1043.4" y2="1584.8" stroke="#000" stroke-width="1.9"></line>
<circle cx="788.0" cy="1520.3" r="3.6" fill="#000"></circle>
<circle cx="991.8" cy="1334.8" r="3.6" fill="#000"></circle>
<rect x="996.9" y="1412.1" width="6.6" height="6.6" fill="#000"></rect>
<rect x="988.5" y="1418.7" width="6.6" height="6.6" fill="#000"></rect>
<circle cx="983.8" cy="1442.0" r="3.6" fill="#000"></circle>
<rect x="988.5" y="1446.4" width="6.6" height="6.6" fill="#000"></rect>
<rect x="996.9" y="1457.4" width="6.6" height="6.6" fill="#000"></rect>
<circle cx="991.8" cy="1462.3" r="3.6" fill="#000"></circle>
<rect x="980.5" y="1471.0" width="6.6" height="6.6" fill="#000"></rect>
<rect x="988.5" y="1472.3" width="6.6" height="6.6" fill="#000"></rect>
<circle cx="1000.2" cy="1471.3" r="3.6" fill="#000"></circle>
<circle cx="1008.5" cy="1477.3" r="3.6" fill="#000"></circle>
<circle cx="983.8" cy="1484.0" r="3.6" fill="#000"></circle>
<rect x="988.5" y="1482.0" width="6.6" height="6.6" fill="#000"></rect>
<rect x="996.9" y="1482.0" width="6.6" height="6.6" fill="#000"></rect>
<text x="894.6" y="1236.6" font-size="36" font-family="Carlito, 'Liberation Sans', sans-serif" font-style="italic" text-anchor="middle" fill="#000" stroke="#000" stroke-width="0.4" textLength="105.25" lengthAdjust="spacingAndGlyphs">DDAH1</text>
<text x="1021.0" y="1251.0" font-size="23" font-family="Carlito, 'Liberation Sans', sans-serif" fill="#000" stroke="#000" stroke-width="0.4" textLength="87.44" lengthAdjust="spacingAndGlyphs">P&lt;0.0001</text>
<text x="0" y="0" font-size="30.6" font-family="Carlito, 'Liberation Sans', sans-serif" text-anchor="middle" stroke="#000" stroke-width="0.4" transform="translate(622.5 1472.0) rotate(-90)" textLength="218.16" lengthAdjust="spacingAndGlyphs">mRNA expression</text>
<path d="M1274.6,1270 L1274.6,1680.1 L1684,1680.1" fill="none" stroke="#000" stroke-width="1.9"></path>
<line x1="1266.6" y1="1270.4" x2="1274.6" y2="1270.4" stroke="#000" stroke-width="1.9"></line>
<text x="1262.3" y="1278.0" font-size="23" font-family="Carlito, 'Liberation Sans', sans-serif" text-anchor="end" fill="#000" stroke="#000" stroke-width="0.4" textLength="34.98" lengthAdjust="spacingAndGlyphs">800</text>
<line x1="1266.6" y1="1366.7" x2="1274.6" y2="1366.7" stroke="#000" stroke-width="1.9"></line>
<text x="1262.3" y="1374.3" font-size="23" font-family="Carlito, 'Liberation Sans', sans-serif" text-anchor="end" fill="#000" stroke="#000" stroke-width="0.4" textLength="34.98" lengthAdjust="spacingAndGlyphs">600</text>
<line x1="1266.6" y1="1463.3" x2="1274.6" y2="1463.3" stroke="#000" stroke-width="1.9"></line>
<text x="1262.3" y="1470.9" font-size="23" font-family="Carlito, 'Liberation Sans', sans-serif" text-anchor="end" fill="#000" stroke="#000" stroke-width="0.4" textLength="34.98" lengthAdjust="spacingAndGlyphs">400</text>
<line x1="1266.6" y1="1560.5" x2="1274.6" y2="1560.5" stroke="#000" stroke-width="1.9"></line>
<text x="1262.3" y="1568.1" font-size="23" font-family="Carlito, 'Liberation Sans', sans-serif" text-anchor="end" fill="#000" stroke="#000" stroke-width="0.4" textLength="34.98" lengthAdjust="spacingAndGlyphs">200</text>
<line x1="1266.6" y1="1656.5" x2="1274.6" y2="1656.5" stroke="#000" stroke-width="1.9"></line>
<text x="1262.3" y="1664.1" font-size="23" font-family="Carlito, 'Liberation Sans', sans-serif" text-anchor="end" fill="#000" stroke="#000" stroke-width="0.4" textLength="11.67" lengthAdjust="spacingAndGlyphs">0</text>
<line x1="1376.1" y1="1680.1" x2="1376.1" y2="1688.1" stroke="#000" stroke-width="1.9"></line>
<text x="1376.1" y="1709.1" font-size="23" font-family="Carlito, 'Liberation Sans', sans-serif" text-anchor="middle" fill="#000" stroke="#000" stroke-width="0.4" textLength="155.23" lengthAdjust="spacingAndGlyphs">Normal adjacent</text>
<line x1="1582.4" y1="1680.1" x2="1582.4" y2="1688.1" stroke="#000" stroke-width="1.9"></line>
<text x="1582.4" y="1709.1" font-size="23" font-family="Carlito, 'Liberation Sans', sans-serif" text-anchor="middle" fill="#000" stroke="#000" stroke-width="0.4" textLength="60.39" lengthAdjust="spacingAndGlyphs">Tumor</text>
<line x1="1376.1" y1="1433.8" x2="1376.1" y2="1646.7" stroke="#000" stroke-width="1.9"></line>
<line x1="1351.1" y1="1433.8" x2="1401.1" y2="1433.8" stroke="#000" stroke-width="1.9"></line>
<line x1="1351.1" y1="1646.7" x2="1401.1" y2="1646.7" stroke="#000" stroke-width="1.9"></line>
<rect x="1325.4" y="1533" width="103.1" height="72.7" fill="#1477C2" stroke="#000" stroke-width="1.8"></rect>
<line x1="1325.4" y1="1557.6" x2="1428.5" y2="1557.6" stroke="#000" stroke-width="1.9"></line>
<line x1="1582.4" y1="1288" x2="1582.4" y2="1654.8" stroke="#000" stroke-width="1.9"></line>
<line x1="1557.4" y1="1288" x2="1607.4" y2="1288" stroke="#000" stroke-width="1.9"></line>
<line x1="1557.4" y1="1654.8" x2="1607.4" y2="1654.8" stroke="#000" stroke-width="1.9"></line>
<rect x="1530" y="1462.6" width="103.2" height="117.6" fill="#1477C2" stroke="#000" stroke-width="1.8"></rect>
<line x1="1530" y1="1533" x2="1633.2" y2="1533" stroke="#000" stroke-width="1.9"></line>
<circle cx="1376.1" cy="1324.1" r="3.6" fill="#000"></circle>
<rect x="1372.8" y="1397.1" width="6.6" height="6.6" fill="#000"></rect>
<circle cx="1573.6" cy="1281.5" r="3.6" fill="#000"></circle>
<circle cx="1581.8" cy="1282.0" r="3.6" fill="#000"></circle>
<circle cx="1590.0" cy="1282.0" r="3.6" fill="#000"></circle>
<circle cx="1597.8" cy="1277.6" r="3.6" fill="#000"></circle>
<text x="1474.4" y="1235.7" font-size="36" font-family="Carlito, 'Liberation Sans', sans-serif" font-style="italic" text-anchor="middle" fill="#000" stroke="#000" stroke-width="0.4" textLength="105.55" lengthAdjust="spacingAndGlyphs">NDRG1</text>
<text x="1613.6" y="1250.4" font-size="23" font-family="Carlito, 'Liberation Sans', sans-serif" fill="#000" stroke="#000" stroke-width="0.4" textLength="87.44" lengthAdjust="spacingAndGlyphs">P=0.0013</text>
<text x="0" y="0" font-size="30.6" font-family="Carlito, 'Liberation Sans', sans-serif" text-anchor="middle" stroke="#000" stroke-width="0.4" transform="translate(1213.0 1473.6) rotate(-90)" textLength="218.16" lengthAdjust="spacingAndGlyphs">mRNA expression</text>
<path d="M89.8,1852.2 L89.8,2262.4 L499.3,2262.4" fill="none" stroke="#000" stroke-width="1.9"></path>
<line x1="81.8" y1="1852.2" x2="89.8" y2="1852.2" stroke="#000" stroke-width="1.9"></line>
<text x="78.1" y="1859.8" font-size="23" font-family="Carlito, 'Liberation Sans', sans-serif" text-anchor="end" fill="#000" stroke="#000" stroke-width="0.4" textLength="34.98" lengthAdjust="spacingAndGlyphs">800</text>
<line x1="81.8" y1="1943.4" x2="89.8" y2="1943.4" stroke="#000" stroke-width="1.9"></line>
<text x="78.1" y="1951.0" font-size="23" font-family="Carlito, 'Liberation Sans', sans-serif" text-anchor="end" fill="#000" stroke="#000" stroke-width="0.4" textLength="34.98" lengthAdjust="spacingAndGlyphs">600</text>
<line x1="81.8" y1="2035.3" x2="89.8" y2="2035.3" stroke="#000" stroke-width="1.9"></line>
<text x="78.1" y="2042.9" font-size="23" font-family="Carlito, 'Liberation Sans', sans-serif" text-anchor="end" fill="#000" stroke="#000" stroke-width="0.4" textLength="34.98" lengthAdjust="spacingAndGlyphs">400</text>
<line x1="81.8" y1="2126.1" x2="89.8" y2="2126.1" stroke="#000" stroke-width="1.9"></line>
<text x="78.1" y="2133.7" font-size="23" font-family="Carlito, 'Liberation Sans', sans-serif" text-anchor="end" fill="#000" stroke="#000" stroke-width="0.4" textLength="34.98" lengthAdjust="spacingAndGlyphs">200</text>
<line x1="81.8" y1="2217" x2="89.8" y2="2217" stroke="#000" stroke-width="1.9"></line>
<text x="78.1" y="2224.6" font-size="23" font-family="Carlito, 'Liberation Sans', sans-serif" text-anchor="end" fill="#000" stroke="#000" stroke-width="0.4" textLength="11.67" lengthAdjust="spacingAndGlyphs">0</text>
<line x1="191.5" y1="2262.4" x2="191.5" y2="2270.4" stroke="#000" stroke-width="1.9"></line>
<text x="191.5" y="2291.4" font-size="23" font-family="Carlito, 'Liberation Sans', sans-serif" text-anchor="middle" fill="#000" stroke="#000" stroke-width="0.4" textLength="155.23" lengthAdjust="spacingAndGlyphs">Normal adjacent</text>
<line x1="397.3" y1="2262.4" x2="397.3" y2="2270.4" stroke="#000" stroke-width="1.9"></line>
<text x="397.3" y="2291.4" font-size="23" font-family="Carlito, 'Liberation Sans', sans-serif" text-anchor="middle" fill="#000" stroke="#000" stroke-width="0.4" textLength="60.39" lengthAdjust="spacingAndGlyphs">Tumor</text>
<line x1="191.5" y1="2154.9" x2="191.5" y2="2215.9" stroke="#000" stroke-width="1.9"></line>
<line x1="166.5" y1="2154.9" x2="216.5" y2="2154.9" stroke="#000" stroke-width="1.9"></line>
<line x1="166.5" y1="2215.9" x2="216.5" y2="2215.9" stroke="#000" stroke-width="1.9"></line>
<rect x="140.7" y="2185.4" width="102.7" height="23.8" fill="#1477C2" stroke="#000" stroke-width="1.8"></rect>
<line x1="140.7" y1="2197.3" x2="243.4" y2="2197.3" stroke="#000" stroke-width="1.9"></line>
<line x1="397.3" y1="2027.1" x2="397.3" y2="2214.2" stroke="#000" stroke-width="1.9"></line>
<line x1="372.3" y1="2027.1" x2="422.3" y2="2027.1" stroke="#000" stroke-width="1.9"></line>
<line x1="372.3" y1="2214.2" x2="422.3" y2="2214.2" stroke="#000" stroke-width="1.9"></line>
<rect x="345.1" y="2122" width="103.4" height="62.7" fill="#1477C2" stroke="#000" stroke-width="1.8"></rect>
<line x1="345.1" y1="2165.8" x2="448.5" y2="2165.8" stroke="#000" stroke-width="1.9"></line>
<circle cx="191.5" cy="2061.7" r="3.6" fill="#000"></circle>
<circle cx="191.5" cy="2093.9" r="3.6" fill="#000"></circle>
<circle cx="191.5" cy="2132.9" r="3.6" fill="#000"></circle>
<circle cx="191.5" cy="2146.4" r="3.6" fill="#000"></circle>
<circle cx="397.4" cy="1913.5" r="3.6" fill="#000"></circle>
<circle cx="397.4" cy="1930.1" r="3.6" fill="#000"></circle>
<circle cx="389.2" cy="1949.2" r="3.6" fill="#000"></circle>
<circle cx="397.4" cy="1954.0" r="3.6" fill="#000"></circle>
<circle cx="397.4" cy="1966.2" r="3.6" fill="#000"></circle>
<circle cx="405.5" cy="1965.6" r="3.6" fill="#000"></circle>
<circle cx="397.4" cy="1976.5" r="3.6" fill="#000"></circle>
<circle cx="397.4" cy="1988.8" r="3.6" fill="#000"></circle>
<circle cx="405.5" cy="1991.6" r="3.6" fill="#000"></circle>
<circle cx="389.2" cy="1997.2" r="3.6" fill="#000"></circle>
<circle cx="397.4" cy="1998.5" r="3.6" fill="#000"></circle>
<circle cx="405.5" cy="2002.6" r="3.6" fill="#000"></circle>
<circle cx="397.4" cy="2007.0" r="3.6" fill="#000"></circle>
<circle cx="372.6" cy="2010.7" r="3.6" fill="#000"></circle>
<circle cx="414.0" cy="2010.7" r="3.6" fill="#000"></circle>
<circle cx="380.7" cy="2012.9" r="3.6" fill="#000"></circle>
<circle cx="380.7" cy="2017.3" r="3.6" fill="#000"></circle>
<circle cx="388.9" cy="2014.8" r="3.6" fill="#000"></circle>
<circle cx="388.9" cy="2019.2" r="3.6" fill="#000"></circle>
<circle cx="397.4" cy="2016.1" r="3.6" fill="#000"></circle>
<circle cx="405.5" cy="2014.8" r="3.6" fill="#000"></circle>
<circle cx="414.0" cy="2018.3" r="3.6" fill="#000"></circle>
<circle cx="397.4" cy="2024.5" r="3.6" fill="#000"></circle>
<circle cx="405.5" cy="2024.2" r="3.6" fill="#000"></circle>
<text x="289.8" y="1812.5" font-size="36" font-family="Carlito, 'Liberation Sans', sans-serif" font-style="italic" text-anchor="middle" fill="#000" stroke="#000" stroke-width="0.4" textLength="80.56" lengthAdjust="spacingAndGlyphs">APOE</text>
<text x="429.8" y="1836.3" font-size="23" font-family="Carlito, 'Liberation Sans', sans-serif" fill="#000" stroke="#000" stroke-width="0.4" textLength="87.44" lengthAdjust="spacingAndGlyphs">P&lt;0.0001</text>
<text x="0" y="0" font-size="30.6" font-family="Carlito, 'Liberation Sans', sans-serif" text-anchor="middle" stroke="#000" stroke-width="0.4" transform="translate(22.4 2055.8) rotate(-90)" textLength="218.16" lengthAdjust="spacingAndGlyphs">mRNA expression</text>
<path d="M683.9,1852.2 L683.9,2260.4 L1093.7,2260.4" fill="none" stroke="#000" stroke-width="1.9"></path>
<line x1="675.9" y1="1852.9" x2="683.9" y2="1852.9" stroke="#000" stroke-width="1.9"></line>
<text x="671.4" y="1860.5" font-size="23" font-family="Carlito, 'Liberation Sans', sans-serif" text-anchor="end" fill="#000" stroke="#000" stroke-width="0.4" textLength="34.98" lengthAdjust="spacingAndGlyphs">600</text>
<line x1="675.9" y1="1969.7" x2="683.9" y2="1969.7" stroke="#000" stroke-width="1.9"></line>
<text x="671.4" y="1977.3" font-size="23" font-family="Carlito, 'Liberation Sans', sans-serif" text-anchor="end" fill="#000" stroke="#000" stroke-width="0.4" textLength="34.98" lengthAdjust="spacingAndGlyphs">400</text>
<line x1="675.9" y1="2086.3" x2="683.9" y2="2086.3" stroke="#000" stroke-width="1.9"></line>
<text x="671.4" y="2093.9" font-size="23" font-family="Carlito, 'Liberation Sans', sans-serif" text-anchor="end" fill="#000" stroke="#000" stroke-width="0.4" textLength="34.98" lengthAdjust="spacingAndGlyphs">200</text>
<line x1="675.9" y1="2202.8" x2="683.9" y2="2202.8" stroke="#000" stroke-width="1.9"></line>
<text x="671.4" y="2210.4" font-size="23" font-family="Carlito, 'Liberation Sans', sans-serif" text-anchor="end" fill="#000" stroke="#000" stroke-width="0.4" textLength="11.67" lengthAdjust="spacingAndGlyphs">0</text>
<line x1="785.4" y1="2260.4" x2="785.4" y2="2268.4" stroke="#000" stroke-width="1.9"></line>
<text x="785.4" y="2289.4" font-size="23" font-family="Carlito, 'Liberation Sans', sans-serif" text-anchor="middle" fill="#000" stroke="#000" stroke-width="0.4" textLength="155.23" lengthAdjust="spacingAndGlyphs">Normal adjacent</text>
<line x1="991.8" y1="2260.4" x2="991.8" y2="2268.4" stroke="#000" stroke-width="1.9"></line>
<text x="991.8" y="2289.4" font-size="23" font-family="Carlito, 'Liberation Sans', sans-serif" text-anchor="middle" fill="#000" stroke="#000" stroke-width="0.4" textLength="60.39" lengthAdjust="spacingAndGlyphs">Tumor</text>
<line x1="785.4" y1="2199" x2="785.4" y2="2202.8" stroke="#000" stroke-width="1.9"></line>
<line x1="760.4" y1="2199" x2="810.4" y2="2199" stroke="#000" stroke-width="1.9"></line>
<line x1="760.4" y1="2202.8" x2="810.4" y2="2202.8" stroke="#000" stroke-width="1.9"></line>
<rect x="734.1" y="2198.8" width="102.9" height="3.3" fill="#1477C2" stroke="#000" stroke-width="1.3"></rect>
<line x1="734.1" y1="2201" x2="837" y2="2201" stroke="#000" stroke-width="1.9"></line>
<line x1="991.8" y1="2126.2" x2="991.8" y2="2202.8" stroke="#000" stroke-width="1.9"></line>
<line x1="966.8" y1="2126.2" x2="1016.8" y2="2126.2" stroke="#000" stroke-width="1.9"></line>
<line x1="966.8" y1="2202.8" x2="1016.8" y2="2202.8" stroke="#000" stroke-width="1.9"></line>
<rect x="939.6" y="2171.8" width="102.5" height="30.0" fill="#1477C2" stroke="#000" stroke-width="1.8"></rect>
<line x1="939.6" y1="2200.5" x2="1042.1" y2="2200.5" stroke="#000" stroke-width="1.9"></line>
<circle cx="785.4" cy="2071.3" r="3.6" fill="#000"></circle>
<circle cx="777.1" cy="2124.6" r="3.6" fill="#000"></circle>
<rect x="782.1" y="2128.9" width="6.6" height="6.6" fill="#000"></rect>
<rect x="782.1" y="2142.9" width="6.6" height="6.6" fill="#000"></rect>
<circle cx="785.4" cy="2162.9" r="3.6" fill="#000"></circle>
<circle cx="793.7" cy="2166.8" r="3.6" fill="#000"></circle>
<circle cx="785.4" cy="2172.8" r="3.6" fill="#000"></circle>
<circle cx="777.1" cy="2180.2" r="3.6" fill="#000"></circle>
<circle cx="785.4" cy="2182.8" r="3.6" fill="#000"></circle>
<rect x="773.8" y="2182.9" width="6.6" height="6.6" fill="#000"></rect>
<rect x="790.4" y="2185.5" width="6.6" height="6.6" fill="#000"></rect>
<rect x="782.1" y="2191.2" width="6.6" height="6.6" fill="#000"></rect>
<circle cx="991.3" cy="1946.5" r="3.6" fill="#000"></circle>
<circle cx="991.3" cy="2019.0" r="3.6" fill="#000"></circle>
<circle cx="991.3" cy="2031.2" r="3.6" fill="#000"></circle>
<circle cx="983.3" cy="2047.2" r="3.6" fill="#000"></circle>
<circle cx="982.8" cy="2057.6" r="3.6" fill="#000"></circle>
<circle cx="991.3" cy="2054.3" r="3.6" fill="#000"></circle>
<circle cx="991.3" cy="2063.2" r="3.6" fill="#000"></circle>
<circle cx="999.8" cy="2061.8" r="3.6" fill="#000"></circle>
<circle cx="982.8" cy="2071.2" r="3.6" fill="#000"></circle>
<circle cx="991.3" cy="2075.5" r="3.6" fill="#000"></circle>
<circle cx="982.8" cy="2086.3" r="3.6" fill="#000"></circle>
<circle cx="991.3" cy="2088.2" r="3.6" fill="#000"></circle>
<circle cx="999.8" cy="2087.7" r="3.6" fill="#000"></circle>
<circle cx="1007.8" cy="2084.9" r="3.6" fill="#000"></circle>
<circle cx="966.4" cy="2092.0" r="3.6" fill="#000"></circle>
<circle cx="974.8" cy="2093.4" r="3.6" fill="#000"></circle>
<circle cx="1007.8" cy="2093.4" r="3.6" fill="#000"></circle>
<circle cx="999.8" cy="2095.3" r="3.6" fill="#000"></circle>
<circle cx="982.8" cy="2098.5" r="3.6" fill="#000"></circle>
<circle cx="982.8" cy="2101.4" r="3.6" fill="#000"></circle>
<circle cx="991.3" cy="2099.0" r="3.6" fill="#000"></circle>
<circle cx="999.8" cy="2101.8" r="3.6" fill="#000"></circle>
<circle cx="974.8" cy="2108.4" r="3.6" fill="#000"></circle>
<circle cx="991.3" cy="2107.5" r="3.6" fill="#000"></circle>
<circle cx="1007.8" cy="2108.0" r="3.6" fill="#000"></circle>
<circle cx="982.8" cy="2112.2" r="3.6" fill="#000"></circle>
<circle cx="999.8" cy="2111.7" r="3.6" fill="#000"></circle>
<circle cx="991.3" cy="2116.0" r="3.6" fill="#000"></circle>
<circle cx="958.4" cy="2119.7" r="3.6" fill="#000"></circle>
<circle cx="966.4" cy="2120.7" r="3.6" fill="#000"></circle>
<circle cx="974.8" cy="2124.0" r="3.6" fill="#000"></circle>
<circle cx="982.8" cy="2124.0" r="3.6" fill="#000"></circle>
<circle cx="991.3" cy="2124.9" r="3.6" fill="#000"></circle>
<circle cx="999.8" cy="2125.4" r="3.6" fill="#000"></circle>
<circle cx="1007.8" cy="2124.0" r="3.6" fill="#000"></circle>
<circle cx="1015.8" cy="2123.5" r="3.6" fill="#000"></circle>
<circle cx="1024.3" cy="2120.7" r="3.6" fill="#000"></circle>
<text x="894.6" y="1811.6" font-size="36" font-family="Carlito, 'Liberation Sans', sans-serif" font-style="italic" text-anchor="middle" fill="#000" stroke="#000" stroke-width="0.4" textLength="109.72" lengthAdjust="spacingAndGlyphs">YWHAZ</text>
<text x="1022.1" y="1836.6" font-size="23" font-family="Carlito, 'Liberation Sans', sans-serif" fill="#000" stroke="#000" stroke-width="0.4" textLength="87.44" lengthAdjust="spacingAndGlyphs">P=0.0385</text>
<text x="0" y="0" font-size="30.6" font-family="Carlito, 'Liberation Sans', sans-serif" text-anchor="middle" stroke="#000" stroke-width="0.4" transform="translate(616.0 2054.4) rotate(-90)" textLength="218.16" lengthAdjust="spacingAndGlyphs">mRNA expression</text>
<path d="M1273,1852.7 L1273,2261.7 L1680.7,2261.7" fill="none" stroke="#000" stroke-width="1.9"></path>
<line x1="1265" y1="1853.3" x2="1273" y2="1853.3" stroke="#000" stroke-width="1.9"></line>
<text x="1260.7" y="1860.9" font-size="23" font-family="Carlito, 'Liberation Sans', sans-serif" text-anchor="end" fill="#000" stroke="#000" stroke-width="0.4" textLength="46.64" lengthAdjust="spacingAndGlyphs">8000</text>
<line x1="1265" y1="1944" x2="1273" y2="1944" stroke="#000" stroke-width="1.9"></line>
<text x="1260.7" y="1951.6" font-size="23" font-family="Carlito, 'Liberation Sans', sans-serif" text-anchor="end" fill="#000" stroke="#000" stroke-width="0.4" textLength="46.64" lengthAdjust="spacingAndGlyphs">6000</text>
<line x1="1265" y1="2035.1" x2="1273" y2="2035.1" stroke="#000" stroke-width="1.9"></line>
<text x="1260.7" y="2042.7" font-size="23" font-family="Carlito, 'Liberation Sans', sans-serif" text-anchor="end" fill="#000" stroke="#000" stroke-width="0.4" textLength="46.64" lengthAdjust="spacingAndGlyphs">4000</text>
<line x1="1265" y1="2126.1" x2="1273" y2="2126.1" stroke="#000" stroke-width="1.9"></line>
<text x="1260.7" y="2133.7" font-size="23" font-family="Carlito, 'Liberation Sans', sans-serif" text-anchor="end" fill="#000" stroke="#000" stroke-width="0.4" textLength="46.64" lengthAdjust="spacingAndGlyphs">2000</text>
<line x1="1265" y1="2216.8" x2="1273" y2="2216.8" stroke="#000" stroke-width="1.9"></line>
<text x="1260.7" y="2224.4" font-size="23" font-family="Carlito, 'Liberation Sans', sans-serif" text-anchor="end" fill="#000" stroke="#000" stroke-width="0.4" textLength="11.67" lengthAdjust="spacingAndGlyphs">0</text>
<line x1="1375.5" y1="2261.7" x2="1375.5" y2="2269.7" stroke="#000" stroke-width="1.9"></line>
<text x="1375.5" y="2290.7" font-size="23" font-family="Carlito, 'Liberation Sans', sans-serif" text-anchor="middle" fill="#000" stroke="#000" stroke-width="0.4" textLength="155.23" lengthAdjust="spacingAndGlyphs">Normal adjacent</text>
<line x1="1579.2" y1="2261.7" x2="1579.2" y2="2269.7" stroke="#000" stroke-width="1.9"></line>
<text x="1579.2" y="2290.7" font-size="23" font-family="Carlito, 'Liberation Sans', sans-serif" text-anchor="middle" fill="#000" stroke="#000" stroke-width="0.4" textLength="60.39" lengthAdjust="spacingAndGlyphs">Tumor</text>
<line x1="1375.5" y1="2196.5" x2="1375.5" y2="2216.8" stroke="#000" stroke-width="1.9"></line>
<line x1="1350.5" y1="2196.5" x2="1400.5" y2="2196.5" stroke="#000" stroke-width="1.9"></line>
<line x1="1350.5" y1="2216.8" x2="1400.5" y2="2216.8" stroke="#000" stroke-width="1.9"></line>
<rect x="1323.1" y="2206" width="103.8" height="8.5" fill="#1477C2" stroke="#000" stroke-width="1.8"></rect>
<line x1="1323.1" y1="2211" x2="1426.9" y2="2211" stroke="#000" stroke-width="1.9"></line>
<line x1="1579.2" y1="2148" x2="1579.2" y2="2215.9" stroke="#000" stroke-width="1.9"></line>
<line x1="1554.2" y1="2148" x2="1604.2" y2="2148" stroke="#000" stroke-width="1.9"></line>
<line x1="1554.2" y1="2215.9" x2="1604.2" y2="2215.9" stroke="#000" stroke-width="1.9"></line>
<rect x="1528.4" y="2183.1" width="101.6" height="22.9" fill="#1477C2" stroke="#000" stroke-width="1.8"></rect>
<line x1="1528.4" y1="2196.5" x2="1630" y2="2196.5" stroke="#000" stroke-width="1.9"></line>
<circle cx="1375.5" cy="2171.6" r="3.6" fill="#000"></circle>
<rect x="1380.4" y="2179.1" width="6.6" height="6.6" fill="#000"></rect>
<rect x="1372.2" y="2185.7" width="6.6" height="6.6" fill="#000"></rect>
<rect x="1575.9" y="1872.0" width="6.6" height="6.6" fill="#000"></rect>
<rect x="1575.9" y="1912.3" width="6.6" height="6.6" fill="#000"></rect>
<circle cx="1579.2" cy="2011.2" r="3.6" fill="#000"></circle>
<circle cx="1579.2" cy="2038.4" r="3.6" fill="#000"></circle>
<circle cx="1579.2" cy="2059.6" r="3.6" fill="#000"></circle>
<circle cx="1571.0" cy="2076.0" r="3.6" fill="#000"></circle>
<rect x="1575.9" y="2074.4" width="6.6" height="6.6" fill="#000"></rect>
<circle cx="1587.4" cy="2076.0" r="3.6" fill="#000"></circle>
<rect x="1534.9" y="2115.9" width="6.6" height="6.6" fill="#000"></rect>
<rect x="1543.1" y="2116.9" width="6.6" height="6.6" fill="#000"></rect>
<circle cx="1554.6" cy="2121.9" r="3.6" fill="#000"></circle>
<circle cx="1562.8" cy="2122.8" r="3.6" fill="#000"></circle>
<circle cx="1571.0" cy="2124.2" r="3.6" fill="#000"></circle>
<circle cx="1579.2" cy="2125.8" r="3.6" fill="#000"></circle>
<circle cx="1587.4" cy="2125.1" r="3.6" fill="#000"></circle>
<circle cx="1595.6" cy="2123.5" r="3.6" fill="#000"></circle>
<circle cx="1603.7" cy="2121.9" r="3.6" fill="#000"></circle>
<circle cx="1611.9" cy="2120.2" r="3.6" fill="#000"></circle>
<circle cx="1620.1" cy="2119.2" r="3.6" fill="#000"></circle>
<rect x="1559.5" y="2126.1" width="6.6" height="6.6" fill="#000"></rect>
<rect x="1567.7" y="2134.0" width="6.6" height="6.6" fill="#000"></rect>
<rect x="1575.9" y="2133.3" width="6.6" height="6.6" fill="#000"></rect>
<rect x="1584.1" y="2132.3" width="6.6" height="6.6" fill="#000"></rect>
<rect x="1575.9" y="2136.6" width="6.6" height="6.6" fill="#000"></rect>
<rect x="1534.9" y="2138.2" width="6.6" height="6.6" fill="#000"></rect>
<circle cx="1546.4" cy="2142.5" r="3.6" fill="#000"></circle>
<circle cx="1554.6" cy="2143.8" r="3.6" fill="#000"></circle>
<circle cx="1562.8" cy="2144.8" r="3.6" fill="#000"></circle>
<circle cx="1571.0" cy="2145.8" r="3.6" fill="#000"></circle>
<circle cx="1579.2" cy="2145.8" r="3.6" fill="#000"></circle>
<circle cx="1587.4" cy="2145.8" r="3.6" fill="#000"></circle>
<circle cx="1595.6" cy="2144.8" r="3.6" fill="#000"></circle>
<circle cx="1603.7" cy="2143.8" r="3.6" fill="#000"></circle>
<circle cx="1611.9" cy="2143.1" r="3.6" fill="#000"></circle>
<circle cx="1620.1" cy="2142.5" r="3.6" fill="#000"></circle>
<text x="1476.0" y="1811.7" font-size="36" font-family="Carlito, 'Liberation Sans', sans-serif" font-style="italic" text-anchor="middle" fill="#000" stroke="#000" stroke-width="0.4" textLength="97.91" lengthAdjust="spacingAndGlyphs">GDF15</text>
<text x="1613.6" y="1834.7" font-size="23" font-family="Carlito, 'Liberation Sans', sans-serif" fill="#000" stroke="#000" stroke-width="0.4" textLength="87.44" lengthAdjust="spacingAndGlyphs">P&lt;0.0001</text>
<text x="0" y="0" font-size="30.6" font-family="Carlito, 'Liberation Sans', sans-serif" text-anchor="middle" stroke="#000" stroke-width="0.4" transform="translate(1193.5 2055.7) rotate(-90)" textLength="218.16" lengthAdjust="spacingAndGlyphs">mRNA expression</text>
<text x="15.4" y="1194.2" font-size="53" font-family="Carlito, 'Liberation Sans', sans-serif" fill="#000" stroke="#000" stroke-width="0.6" textLength="27.86" lengthAdjust="spacingAndGlyphs">b</text>
</svg></body></html>
